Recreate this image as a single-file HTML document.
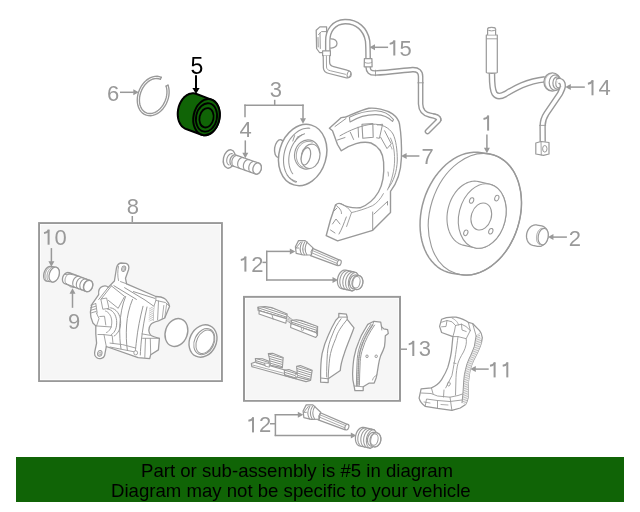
<!DOCTYPE html>
<html><head><meta charset="utf-8"><style>
html,body{margin:0;padding:0;background:#fff;}
body{width:640px;height:512px;position:relative;overflow:hidden;font-family:"Liberation Sans",sans-serif;}
svg{position:absolute;left:0;top:0;will-change:transform;}
text{font-family:"Liberation Sans",sans-serif;}
.ban{position:absolute;left:16px;top:457px;width:608px;height:45px;background:#106406;}
.l{position:absolute;color:#000;font-size:18.6px;white-space:nowrap;line-height:20px;will-change:transform;}
</style></head><body>
<svg width="640" height="512" viewBox="0 0 640 512">
<rect x="39.05" y="223.05" width="182.90" height="158.00" fill="#f6f6f6" stroke="#999" stroke-width="1.9"/>
<rect x="40.40" y="224.40" width="180.20" height="155.30" fill="none" stroke="#fff" stroke-width="0.8"/>
<rect x="244.00" y="296.90" width="156.00" height="103.90" fill="#f6f6f6" stroke="#999" stroke-width="2.0"/>
<rect x="245.40" y="298.30" width="153.20" height="101.10" fill="none" stroke="#fff" stroke-width="0.8"/>
<text x="107.1" y="101" font-size="22" fill="#999" text-anchor="start">6</text>
<text x="269.8" y="97" font-size="22" fill="#999" text-anchor="start">3</text>
<text x="239.4" y="137.0" font-size="22" fill="#999" text-anchor="start">4</text>
<rect x="393.3" y="40.30" width="2.0" height="15.20" fill="#999"/>
<path d="M394.5,41.00 C393.5,42.90 391.8,43.60 389.7,43.90" stroke="#999" stroke-width="1.9" fill="none"/>
<text x="399.6" y="55.5" font-size="22" fill="#999" text-anchor="start">5</text>
<text x="421.4" y="163.8" font-size="22" fill="#999" text-anchor="start">7</text>
<rect x="487.1" y="115.40" width="2.0" height="15.20" fill="#999"/>
<path d="M488.3,116.10 C487.3,118.00 485.6,118.70 483.5,119.00" stroke="#999" stroke-width="1.9" fill="none"/>
<rect x="591.5" y="80.10" width="2.0" height="15.20" fill="#999"/>
<path d="M592.7,80.80 C591.7,82.70 590.0,83.40 587.9,83.70" stroke="#999" stroke-width="1.9" fill="none"/>
<text x="598.6" y="95.3" font-size="22" fill="#999" text-anchor="start">4</text>
<text x="568.7" y="245.5" font-size="22" fill="#999" text-anchor="start">2</text>
<text x="126.8" y="214" font-size="22" fill="#999" text-anchor="start">8</text>
<rect x="47.6" y="229.50" width="2.0" height="15.20" fill="#999"/>
<path d="M48.800000000000004,230.20 C47.800000000000004,232.10 46.1,232.80 44.0,233.10" stroke="#999" stroke-width="1.9" fill="none"/>
<text x="54.5" y="244.7" font-size="22" fill="#999" text-anchor="start">0</text>
<text x="68.0" y="328.5" font-size="22" fill="#999" text-anchor="start">9</text>
<rect x="244.4" y="256.40" width="2.0" height="15.20" fill="#999"/>
<path d="M245.6,257.10 C244.6,259.00 242.9,259.70 240.8,260.00" stroke="#999" stroke-width="1.9" fill="none"/>
<text x="251.3" y="271.6" font-size="22" fill="#999" text-anchor="start">2</text>
<rect x="252.0" y="417.20" width="2.0" height="15.20" fill="#999"/>
<path d="M253.2,417.90 C252.2,419.80 250.5,420.50 248.4,420.80" stroke="#999" stroke-width="1.9" fill="none"/>
<text x="258.9" y="432.4" font-size="22" fill="#999" text-anchor="start">2</text>
<rect x="412.3" y="340.80" width="2.0" height="15.20" fill="#999"/>
<path d="M413.5,341.50 C412.5,343.40 410.8,344.10 408.7,344.40" stroke="#999" stroke-width="1.9" fill="none"/>
<text x="418.7" y="356.0" font-size="22" fill="#999" text-anchor="start">3</text>
<rect x="493.6" y="362.20" width="2.0" height="15.20" fill="#999"/>
<path d="M494.8,362.90 C493.8,364.80 492.1,365.50 490.0,365.80" stroke="#999" stroke-width="1.9" fill="none"/>
<rect x="506.3" y="362.20" width="2.0" height="15.20" fill="#999"/>
<path d="M507.5,362.90 C506.5,364.80 504.8,365.50 502.7,365.80" stroke="#999" stroke-width="1.9" fill="none"/>
<text x="190.6" y="73.9" font-size="23" fill="#000" text-anchor="start">5</text>
<line x1="120" y1="92.3" x2="133.8" y2="92.3" stroke="#999" stroke-width="1.5"/>
<polygon points="138.80,92.30 133.30,95.30 133.30,89.30" fill="#999"/>
<line x1="196" y1="75.2" x2="196.0" y2="88.5" stroke="#000" stroke-width="2.0"/>
<polygon points="196.00,94.00 192.40,88.00 199.60,88.00" fill="#000"/>
<line x1="274.7" y1="99.8" x2="274.7" y2="105.2" stroke="#999" stroke-width="1.5"/>
<line x1="244.3" y1="105.2" x2="303.7" y2="105.2" stroke="#999" stroke-width="1.5"/>
<line x1="245" y1="104.5" x2="245" y2="117.2" stroke="#999" stroke-width="1.5"/>
<line x1="303" y1="104.5" x2="303.0" y2="118.8" stroke="#999" stroke-width="1.5"/>
<polygon points="303.00,123.80 300.00,118.30 306.00,118.30" fill="#999"/>
<line x1="245.3" y1="140.4" x2="245.3" y2="153.3" stroke="#999" stroke-width="1.5"/>
<polygon points="245.30,158.30 242.30,152.80 248.30,152.80" fill="#999"/>
<line x1="388.1" y1="47.3" x2="374.5" y2="47.3" stroke="#999" stroke-width="1.5"/>
<polygon points="369.50,47.30 375.00,44.30 375.00,50.30" fill="#999"/>
<line x1="419.4" y1="156.0" x2="406.09999999999997" y2="156.0" stroke="#999" stroke-width="1.5"/>
<polygon points="401.10,156.00 406.60,153.00 406.60,159.00" fill="#999"/>
<line x1="486.9" y1="134.6" x2="486.9" y2="148.3" stroke="#999" stroke-width="1.5"/>
<polygon points="486.90,153.30 483.90,147.80 489.90,147.80" fill="#999"/>
<line x1="584.8" y1="87.1" x2="570.3000000000001" y2="87.1" stroke="#999" stroke-width="1.5"/>
<polygon points="565.30,87.10 570.80,84.10 570.80,90.10" fill="#999"/>
<line x1="566.9" y1="237.1" x2="552.95" y2="237.1" stroke="#999" stroke-width="1.5"/>
<polygon points="547.95,237.10 553.45,234.10 553.45,240.10" fill="#999"/>
<line x1="132.3" y1="216" x2="132.3" y2="222" stroke="#999" stroke-width="1.5"/>
<line x1="51.4" y1="248.1" x2="51.4" y2="261.8" stroke="#999" stroke-width="1.5"/>
<polygon points="51.40,266.80 48.40,261.30 54.40,261.30" fill="#999"/>
<line x1="72.5" y1="307.8" x2="72.5" y2="293.2" stroke="#999" stroke-width="1.5"/>
<polygon points="72.50,288.20 75.50,293.70 69.50,293.70" fill="#999"/>
<line x1="262.5" y1="262.4" x2="266.75" y2="262.4" stroke="#999" stroke-width="1.5"/>
<line x1="266.75" y1="250.7" x2="266.75" y2="280.6" stroke="#999" stroke-width="1.5"/>
<line x1="266" y1="251.4" x2="290.3" y2="251.4" stroke="#999" stroke-width="1.5"/>
<polygon points="295.30,251.40 289.80,254.40 289.80,248.40" fill="#999"/>
<line x1="266" y1="279.9" x2="333.0" y2="279.9" stroke="#999" stroke-width="1.5"/>
<polygon points="338.00,279.90 332.50,282.90 332.50,276.90" fill="#999"/>
<line x1="270" y1="423.75" x2="275.4" y2="423.75" stroke="#999" stroke-width="1.5"/>
<line x1="275.4" y1="414" x2="275.4" y2="436.1" stroke="#999" stroke-width="1.5"/>
<line x1="274.7" y1="414.75" x2="298.3" y2="414.75" stroke="#999" stroke-width="1.5"/>
<polygon points="303.30,414.75 297.80,417.75 297.80,411.75" fill="#999"/>
<line x1="274.7" y1="435.4" x2="351.3" y2="435.4" stroke="#999" stroke-width="1.5"/>
<polygon points="356.30,435.40 350.80,438.40 350.80,432.40" fill="#999"/>
<line x1="400" y1="349.2" x2="407" y2="349.2" stroke="#999" stroke-width="1.5"/>
<line x1="488.7" y1="369.1" x2="475.3" y2="369.1" stroke="#999" stroke-width="1.5"/>
<polygon points="470.30,369.10 475.80,366.10 475.80,372.10" fill="#999"/>
<path d="M168.05,85.15 L168.72,87.56 L169.08,90.15 L169.13,92.84 L168.87,95.60 L168.29,98.37 L167.42,101.09 L166.27,103.71 L164.86,106.18 L163.22,108.45 L161.38,110.47 L159.39,112.21 L157.27,113.63 L155.07,114.70 L152.83,115.40 L150.60,115.72 L148.42,115.65 L146.34,115.20 L144.39,114.36 L142.61,113.17 L141.05,111.63 L139.72,109.79 L138.66,107.67 L137.88,105.33 L137.41,102.80 L137.25,100.14 L137.40,97.39 L137.87,94.62 L138.63,91.88 L139.68,89.22 L141.00,86.69 L142.56,84.34 L144.33,82.22 L146.28,80.38 L148.36,78.84 L150.53,77.64 L152.76,76.81 L155.00,76.35 L157.20,76.28 L159.32,76.59 L161.33,77.29" stroke="#999" stroke-width="1.35" fill="none" stroke-linejoin="round" stroke-linecap="round" />
<path d="M166.11,86.18 L166.65,88.31 L166.93,90.60 L166.94,92.99 L166.67,95.44 L166.14,97.90 L165.36,100.33 L164.33,102.67 L163.09,104.88 L161.65,106.91 L160.05,108.73 L158.31,110.30 L156.46,111.58 L154.56,112.56 L152.63,113.21 L150.71,113.52 L148.84,113.49 L147.05,113.11 L145.39,112.40 L143.88,111.36 L142.55,110.02 L141.43,108.41 L140.55,106.54 L139.91,104.47 L139.54,102.24 L139.43,99.88 L139.60,97.44 L140.04,94.98 L140.73,92.54 L141.67,90.16 L142.84,87.90 L144.21,85.80 L145.76,83.90 L147.45,82.24 L149.26,80.85 L151.15,79.76 L153.08,78.98 L155.01,78.55 L156.90,78.46 L158.72,78.71 L160.43,79.30" stroke="#999" stroke-width="1.35" fill="none" stroke-linejoin="round" stroke-linecap="round" />
<path d="M168.05,85.15 L166.11,86.18" stroke="#999" stroke-width="1.3" fill="none" stroke-linejoin="round" stroke-linecap="round" />
<path d="M161.33,77.29 L160.43,79.30" stroke="#999" stroke-width="1.3" fill="none" stroke-linejoin="round" stroke-linecap="round" />
<path d="M177.73,113.42 L177.82,111.85 L178.00,110.27 L178.28,108.70 L178.66,107.15 L179.14,105.63 L179.70,104.16 L180.35,102.74 L181.08,101.39 L181.89,100.11 L182.77,98.92 L183.71,97.82 L184.70,96.83 L185.74,95.95 L186.82,95.19 L187.94,94.55 L189.07,94.03 L190.23,93.66 L191.38,93.41 L192.54,93.30 L193.68,93.33 L194.81,93.50 L195.90,93.80 L211.40,99.60 L212.46,100.04 L213.47,100.61 L214.42,101.30 L215.32,102.12 L216.15,103.05 L216.91,104.09 L217.59,105.22 L218.18,106.45 L218.69,107.77 L219.10,109.15 L219.41,110.59 L219.63,112.08 L219.75,113.62 L219.77,115.18 L219.68,116.75 L219.50,118.33 L219.22,119.90 L218.84,121.45 L218.36,122.97 L217.80,124.44 L217.15,125.86 L216.42,127.22 L215.61,128.49 L214.73,129.68 L213.79,130.78 L212.80,131.77 L211.76,132.65 L210.68,133.41 L209.56,134.05 L208.43,134.56 L207.27,134.94 L206.12,135.19 L204.96,135.30 L203.82,135.27 L202.69,135.10 L201.60,134.80 L186.10,129.00 L185.04,128.56 L184.03,127.99 L183.08,127.30 L182.18,126.48 L181.35,125.55 L180.59,124.51 L179.91,123.38 L179.32,122.15 L178.81,120.83 L178.40,119.45 L178.09,118.01 L177.87,116.52 L177.75,114.98 Z" stroke="#000" stroke-width="2.0" fill="#106406" stroke-linejoin="round"/>
<ellipse cx="206.5" cy="117.2" rx="13.0" ry="18.3" transform="rotate(12 206.5 117.2)" stroke="#000" stroke-width="2.0" fill="#106406"/>
<ellipse cx="206.5" cy="117.4" rx="10.4" ry="14.3" transform="rotate(12 206.5 117.4)" stroke="#000" stroke-width="1.8" fill="#106406"/>
<ellipse cx="206.5" cy="117.8" rx="7.0" ry="9.8" transform="rotate(12 206.5 117.8)" stroke="#000" stroke-width="1.8" fill="#106406"/>
<ellipse cx="279.6" cy="148.6" rx="5.0" ry="9.0" transform="rotate(8 279.6 148.6)" stroke="#999" stroke-width="1.4" fill="#fff"/>
<ellipse cx="302.65" cy="155.0" rx="23.5" ry="31.15" transform="rotate(16.4 302.65 155.0)" stroke="#999" stroke-width="1.5" fill="#fff"/>
<path d="M296.02,182.24 L294.61,181.67 L293.26,180.96 L291.97,180.11 L290.75,179.12 L289.61,178.01 L288.55,176.77 L287.58,175.41 L286.70,173.95 L285.92,172.38 L285.24,170.72 L284.67,168.98 L284.21,167.17 L283.86,165.29 L283.63,163.36 L283.51,161.38 L283.51,159.37 L283.62,157.35 L283.85,155.31 L284.19,153.28 L284.64,151.25 L285.21,149.26 L285.88,147.29 L286.65,145.37 L287.52,143.51 L288.49,141.72 L289.54,140.00 L290.68,138.37 L291.90,136.83 L293.18,135.39 L294.53,134.07 L295.93,132.86 L297.38,131.78 L298.87,130.84 L300.39,130.02 L301.94,129.35 L303.49,128.82 L305.06,128.44 L306.62,128.21 L308.17,128.13 L309.71,128.20" stroke="#999" stroke-width="1.1" fill="none" stroke-linejoin="round" stroke-linecap="round" />
<path d="M292.75,173.76 L292.17,172.94 L291.63,172.06 L291.13,171.13 L290.68,170.17 L290.27,169.16 L289.91,168.11 L289.60,167.03 L289.33,165.91 L289.12,164.76 L288.95,163.59 L288.84,162.40 L288.77,161.19 L288.76,159.96 L288.80,158.73 L288.89,157.48 L289.03,156.23 L289.22,154.98 L289.46,153.73 L289.75,152.49 L290.08,151.26 L290.47,150.04 L290.90,148.84 L291.37,147.66 L291.89,146.51 L292.45,145.38 L293.05,144.28 L293.69,143.22 L294.36,142.20 L295.07,141.21 L295.82,140.27 L296.59,139.38 L297.39,138.53 L298.22,137.74 L299.07,137.00 L299.94,136.31 L300.83,135.68 L301.73,135.12 L302.65,134.61 L303.58,134.16 L304.52,133.78" stroke="#999" stroke-width="1.05" fill="none" stroke-linejoin="round" stroke-linecap="round" />
<ellipse cx="307.2" cy="154.5" rx="12.6" ry="14.7" transform="rotate(12 307.2 154.5)" stroke="#999" stroke-width="1.1" fill="#fff"/>
<path d="M302.95,167.20 L302.16,166.81 L301.40,166.33 L300.68,165.79 L300.00,165.18 L299.36,164.50 L298.78,163.77 L298.25,162.97 L297.78,162.13 L297.37,161.24 L297.03,160.31 L296.75,159.35 L296.53,158.35 L296.39,157.34 L296.31,156.31 L296.30,155.26 L296.36,154.22 L296.50,153.18 L296.70,152.14 L296.96,151.13 L297.29,150.13 L297.69,149.16 L298.15,148.23 L298.66,147.34 L299.24,146.49 L299.86,145.69 L300.53,144.95 L301.24,144.27 L301.99,143.65 L302.78,143.11 L303.60,142.63 L304.44,142.22 L305.30,141.90 L306.18,141.65 L307.06,141.48 L307.95,141.40 L308.83,141.40 L309.71,141.48 L310.58,141.64 L311.42,141.88 L312.25,142.20" stroke="#999" stroke-width="1.0" fill="none" stroke-linejoin="round" stroke-linecap="round" />
<ellipse cx="310.6" cy="156.3" rx="9.2" ry="12.3" transform="rotate(12 310.6 156.3)" stroke="#999" stroke-width="1.2" fill="#fff"/>
<ellipse cx="305.9" cy="156.3" rx="4.4" ry="8.9" transform="rotate(14 305.9 156.3)" stroke="#999" stroke-width="1.2" fill="#fff"/>
<path d="M292.8,141 L294.6,135.6 M295,141.6 L297.8,136.6 M298.5,136.5 L302.5,134.5" stroke="#999" stroke-width="1.0" fill="none" stroke-linejoin="round" stroke-linecap="round" />
<path d="M287.2,175.4 C290,178.5 293,180.6 296.6,181.6" stroke="#999" stroke-width="1.0" fill="none" stroke-linejoin="round" stroke-linecap="round" />
<ellipse cx="229.3" cy="159.0" rx="5.9" ry="9.3" transform="rotate(12 229.3 159.0)" stroke="#999" stroke-width="1.4" fill="#fff"/>
<path d="M229.04,164.95 L228.76,164.82 L228.50,164.65 L228.25,164.46 L228.02,164.24 L227.80,163.99 L227.60,163.71 L227.42,163.42 L227.26,163.10 L227.12,162.76 L227.00,162.40 L226.90,162.02 L226.82,161.63 L226.77,161.23 L226.74,160.82 L226.74,160.40 L226.76,159.98 L226.80,159.55 L226.86,159.12 L226.95,158.69 L227.06,158.27 L227.19,157.85 L227.34,157.44 L227.51,157.05 L227.71,156.66 L227.92,156.29 L228.14,155.94 L228.39,155.60 L228.64,155.29 L228.91,155.00 L229.19,154.74 L229.48,154.49 L229.78,154.28 L230.09,154.10 L230.40,153.94 L230.72,153.81 L231.03,153.72 L231.35,153.65 L231.66,153.62 L231.97,153.62 L232.28,153.65" stroke="#999" stroke-width="1.1" fill="none" stroke-linejoin="round" stroke-linecap="round" />
<path d="M229.96,161.21 L229.99,160.73 L230.05,160.24 L230.14,159.75 L230.26,159.27 L230.41,158.80 L230.59,158.34 L230.80,157.89 L231.03,157.46 L231.29,157.06 L231.57,156.68 L231.87,156.33 L232.19,156.01 L232.52,155.73 L232.87,155.48 L233.23,155.26 L233.59,155.09 L233.96,154.96 L234.33,154.87 L234.70,154.81 L235.06,154.81 L235.42,154.84 L235.77,154.92 L236.11,155.04 L259.01,163.14 L259.33,163.30 L259.64,163.50 L259.92,163.74 L260.19,164.01 L260.43,164.32 L260.65,164.66 L260.84,165.03 L261.00,165.43 L261.13,165.84 L261.23,166.28 L261.30,166.74 L261.34,167.21 L261.34,167.69 L261.31,168.17 L261.25,168.66 L261.16,169.15 L261.04,169.63 L260.89,170.10 L260.71,170.56 L260.50,171.01 L260.27,171.44 L260.01,171.84 L259.73,172.22 L259.43,172.57 L259.11,172.89 L258.78,173.17 L258.43,173.42 L258.07,173.64 L257.71,173.81 L257.34,173.94 L256.97,174.03 L256.60,174.09 L256.24,174.09 L255.88,174.06 L255.53,173.98 L255.19,173.86 L232.29,165.76 L231.97,165.60 L231.66,165.40 L231.38,165.16 L231.11,164.89 L230.87,164.58 L230.65,164.24 L230.46,163.87 L230.30,163.47 L230.17,163.06 L230.07,162.62 L230.00,162.16 L229.96,161.69 Z" stroke="#999" stroke-width="1.3" fill="#fff" stroke-linejoin="round"/>
<path d="M234.53,166.55 L234.22,166.45 L233.93,166.31 L233.65,166.14 L233.39,165.93 L233.14,165.70 L232.91,165.44 L232.70,165.15 L232.51,164.84 L232.35,164.50 L232.20,164.15 L232.08,163.77 L231.99,163.38 L231.92,162.97 L231.88,162.55 L231.86,162.12 L231.87,161.69 L231.90,161.25 L231.96,160.81 L232.05,160.38 L232.16,159.94 L232.29,159.52 L232.45,159.10 L232.63,158.69 L232.84,158.30 L233.06,157.93 L233.30,157.58 L233.56,157.25 L233.84,156.94 L234.12,156.65 L234.42,156.40 L234.74,156.17 L235.05,155.98 L235.38,155.81 L235.71,155.68 L236.04,155.58 L236.38,155.51 L236.71,155.48 L237.04,155.48 L237.36,155.52 L237.67,155.59" stroke="#999" stroke-width="1.15" fill="none" stroke-linejoin="round" stroke-linecap="round" />
<path d="M240.33,168.60 L240.02,168.50 L239.73,168.36 L239.45,168.19 L239.19,167.99 L238.94,167.75 L238.71,167.49 L238.50,167.20 L238.31,166.89 L238.15,166.56 L238.00,166.20 L237.88,165.82 L237.79,165.43 L237.72,165.02 L237.68,164.60 L237.66,164.18 L237.67,163.74 L237.70,163.30 L237.76,162.86 L237.85,162.43 L237.96,161.99 L238.09,161.57 L238.25,161.15 L238.43,160.75 L238.64,160.36 L238.86,159.98 L239.10,159.63 L239.36,159.30 L239.64,158.99 L239.92,158.71 L240.22,158.45 L240.54,158.22 L240.85,158.03 L241.18,157.86 L241.51,157.73 L241.84,157.63 L242.18,157.56 L242.51,157.53 L242.84,157.54 L243.16,157.57 L243.47,157.64" stroke="#999" stroke-width="1.15" fill="none" stroke-linejoin="round" stroke-linecap="round" />
<path d="M246.03,170.62 L245.72,170.51 L245.43,170.37 L245.15,170.20 L244.89,170.00 L244.64,169.77 L244.41,169.51 L244.20,169.22 L244.01,168.91 L243.85,168.57 L243.70,168.22 L243.58,167.84 L243.49,167.45 L243.42,167.04 L243.38,166.62 L243.36,166.19 L243.37,165.76 L243.40,165.32 L243.46,164.88 L243.55,164.44 L243.66,164.01 L243.79,163.58 L243.95,163.17 L244.13,162.76 L244.34,162.37 L244.56,162.00 L244.80,161.65 L245.06,161.31 L245.34,161.00 L245.62,160.72 L245.92,160.47 L246.24,160.24 L246.55,160.04 L246.88,159.88 L247.21,159.74 L247.54,159.65 L247.88,159.58 L248.21,159.55 L248.54,159.55 L248.86,159.59 L249.17,159.66" stroke="#999" stroke-width="1.15" fill="none" stroke-linejoin="round" stroke-linecap="round" />
<path d="M251.43,172.53 L251.12,172.42 L250.83,172.28 L250.55,172.11 L250.29,171.91 L250.04,171.68 L249.81,171.42 L249.60,171.13 L249.41,170.82 L249.25,170.48 L249.10,170.13 L248.98,169.75 L248.89,169.36 L248.82,168.95 L248.78,168.53 L248.76,168.10 L248.77,167.67 L248.80,167.23 L248.86,166.79 L248.95,166.35 L249.06,165.92 L249.19,165.49 L249.35,165.08 L249.53,164.67 L249.74,164.28 L249.96,163.91 L250.20,163.56 L250.46,163.22 L250.74,162.91 L251.02,162.63 L251.32,162.38 L251.64,162.15 L251.95,161.95 L252.28,161.79 L252.61,161.65 L252.94,161.56 L253.28,161.49 L253.61,161.46 L253.94,161.46 L254.26,161.50 L254.57,161.57" stroke="#999" stroke-width="1.15" fill="none" stroke-linejoin="round" stroke-linecap="round" />
<ellipse cx="257.1" cy="168.5" rx="4.1" ry="5.7" transform="rotate(16 257.1 168.5)" stroke="#999" stroke-width="1.3" fill="#fff"/>
<path d="M329.4,128.3 L341.3,117.6 L345.6,117 C352,114.5 360,110.5 368.8,108.3 C375,107.5 386,109.5 392.5,113.9 C396,116.5 398.5,119 399.5,124 C401,133 401.8,146 401.4,158 C401,170 397,183 390.5,191.4 L390.5,212.5 L372.7,230.3 L337.6,240.9 L326.2,235.6 L330.5,219.8 L335.5,205 C337,203.5 339.5,203 341.5,204 C347,207.5 353,208.3 360,207.8 C368,205 375,198 378.5,192 C383,184 384.3,172 383.6,162 C383,153 378,146 371,143 C362,140.5 350,144.5 341.3,150.8 L337.5,144.5 L332.5,130.8 Z" stroke="#999" stroke-width="1.4" fill="#fff" stroke-linejoin="round" stroke-linecap="round" />
<path d="M349.4,117.2 C358,113 368,110.5 376,110.7 C384,111 389,113.5 393.5,119.5 L392.5,121.5 C388,116.5 383,114.8 376,114.6 C368,114.5 358,117 350,122 Z" stroke="#999" stroke-width="1.1" fill="none" stroke-linejoin="round" stroke-linecap="round" />
<path d="M340,135.8 C350,130 362,125.2 372,124.2 C382,123.8 389,127.5 393,134 C396,140 397.3,150 397.3,160 C397,172 393.5,181 388.5,188" stroke="#999" stroke-width="1.0" fill="none" stroke-linejoin="round" stroke-linecap="round" />
<path d="M387.5,190 C392,180 394.5,170 394.6,160 C394.6,150 393,143 390.5,138" stroke="#999" stroke-width="0.9" fill="none" stroke-linejoin="round" stroke-linecap="round" />
<path d="M362,124.3 L372.8,123.6 L373.2,137.2 L362.8,138.2 Z" stroke="#999" stroke-width="1.1" fill="none" stroke-linejoin="round" stroke-linecap="round" />
<path d="M377.6,125 L382.6,124.2 L379.4,138.3 L376.6,137.8" stroke="#999" stroke-width="1.0" fill="none" stroke-linejoin="round" stroke-linecap="round" />
<path d="M384.6,130.8 L391.3,143.8 L387,148.6 L380.6,137.2" stroke="#999" stroke-width="1.0" fill="none" stroke-linejoin="round" stroke-linecap="round" />
<path d="M350.3,132.2 L353.6,139.5 M358.1,127.2 L358.6,137.2 M337.5,140 L345,137.5 M335,126.5 L346,118.5" stroke="#999" stroke-width="1.0" fill="none" stroke-linejoin="round" stroke-linecap="round" />
<path d="M372.7,212 L372.7,230 M374,214 L387.5,201.5 M387.5,201.5 L387.5,205" stroke="#999" stroke-width="1.0" fill="none" stroke-linejoin="round" stroke-linecap="round" />
<path d="M346.3,217 C344,223 342,229 339,234 M332.5,224 L336,219 L340,224 M330.5,230 L335,233" stroke="#999" stroke-width="1.0" fill="none" stroke-linejoin="round" stroke-linecap="round" />
<path d="M335.5,205 C339,207 342,211 341.5,213.5 M333,212 L337,208" stroke="#999" stroke-width="1.0" fill="none" stroke-linejoin="round" stroke-linecap="round" />
<path d="M390.2,145.5 C391.5,147 392,148.5 392,149 M388,172 C388.4,174 388.6,175 388.4,176" stroke="#999" stroke-width="0.9" fill="none" stroke-linejoin="round" stroke-linecap="round" />
<path d="M351.5,212.6 C358,211.2 366,208.6 372.7,205.6 C377,203 380.6,199 383.4,193.6" stroke="#999" stroke-width="0.9" fill="none" stroke-linejoin="round" stroke-linecap="round" />
<path d="M341.8,204.2 C345.5,205.5 349,208.5 351.5,212.6 L346.6,226.5" stroke="#999" stroke-width="0.9" fill="none" stroke-linejoin="round" stroke-linecap="round" />
<path d="M316.2,30.3 L319.9,26.9 L326.6,26.9 L326.6,52.5 L319.5,52.5 L316.6,48.5 Z" stroke="#999" stroke-width="1.25" fill="#fff" stroke-linejoin="round" stroke-linecap="round" />
<path d="M318.5,34.5 L321.5,31.6 L326,31.6 M320,33 L320.3,48.5 M318,37.5 L318.2,47" stroke="#999" stroke-width="1.0" fill="none" stroke-linejoin="round" stroke-linecap="round" />
<path d="M327.8,53 L327.8,41 C327.6,31 333.5,22 345,21.65 C357,21.5 365.5,29 367.6,41 C368.1,47 368.1,53 368.1,58.6" stroke="#999" stroke-width="5.7" fill="none" stroke-linejoin="round" stroke-linecap="butt"/>
<path d="M327.8,53 L327.8,41 C327.6,31 333.5,22 345,21.65 C357,21.5 365.5,29 367.6,41 C368.1,47 368.1,53 368.1,58.6" stroke="#fff" stroke-width="2.9" fill="none" stroke-linejoin="round" stroke-linecap="butt"/>
<path d="M330.6,38.8 C334.5,38.6 337,40.8 337,43.5 C337,46.2 334.5,48.2 330.6,48" stroke="#999" stroke-width="1.25" fill="#fff" stroke-linejoin="round" stroke-linecap="round" />
<path d="M368.1,66.8 C368.1,71 370,73.2 375.5,73.0 C390,72.2 405,70 412.5,69.6 C418.2,69.4 420.6,72 420.6,76.5 L420.6,104 C420.8,110 424,114 430,115.2 C436,116.3 439.5,117.5 438.5,120.5 L427.5,131.5" stroke="#999" stroke-width="5.7" fill="none" stroke-linejoin="round" stroke-linecap="round"/>
<path d="M368.1,66.8 C368.1,71 370,73.2 375.5,73.0 C390,72.2 405,70 412.5,69.6 C418.2,69.4 420.6,72 420.6,76.5 L420.6,104 C420.8,110 424,114 430,115.2 C436,116.3 439.5,117.5 438.5,120.5 L427.5,131.5" stroke="#fff" stroke-width="2.9" fill="none" stroke-linejoin="round" stroke-linecap="round"/>
<path d="M375.5,70.2 L375.5,75.8 M417.8,82.8 L423.4,82.8" stroke="#999" stroke-width="0.9" fill="none" stroke-linejoin="round" stroke-linecap="round" />
<path d="M364.4,58.6 L371.9,58.6 L372.1,66.8 L364.2,66.8 Z" stroke="#999" stroke-width="1.25" fill="#fff" stroke-linejoin="round" stroke-linecap="round" />
<path d="M364.5,62.3 C366.5,63.6 369.8,63.6 371.9,62.3" stroke="#999" stroke-width="0.9" fill="none" stroke-linejoin="round" stroke-linecap="round" />
<path d="M433.5,113.9 C438.8,113.8 441.6,116.8 441.2,120.6" stroke="#999" stroke-width="1.0" fill="none" stroke-linejoin="round" stroke-linecap="round" />
<path d="M322.6,50.8 L330.4,50.8 L330.4,55.6 L322.6,55.6 Z" stroke="#999" stroke-width="1.2" fill="#fff" stroke-linejoin="round" stroke-linecap="round" />
<path d="M323.2,55.6 L323.4,68 C323.6,71 325.3,72.8 329,73.5 L345.5,77.6 C349,78.3 351.2,77 351.2,74.5 C351.2,72 349.6,70.8 347,70.2 L333.6,66.6 C331,66 329.6,64.5 329.6,62 L329.6,55.6" stroke="#999" stroke-width="1.25" fill="#fff" stroke-linejoin="round" stroke-linecap="round" />
<path d="M326.4,56 L326.5,67 C326.6,69 327.8,70.2 330.6,70.8 L345.5,74.3" stroke="#999" stroke-width="0.9" fill="none" stroke-linejoin="round" stroke-linecap="round" />
<ellipse cx="348.9" cy="74.2" rx="1.7" ry="3.1" transform="rotate(15 348.9 74.2)" stroke="#999" stroke-width="1.0" fill="#fff"/>
<path d="M420.04,225.81 L420.13,220.58 L420.58,215.29 L421.37,209.99 L422.51,204.70 L423.99,199.48 L425.79,194.37 L427.91,189.39 L430.31,184.60 L432.99,180.02 L435.93,175.69 L439.10,171.65 L442.49,167.92 L446.05,164.54 L449.77,161.52 L453.62,158.90 L457.57,156.68 L461.58,154.90 L465.64,153.55 L469.70,152.66 L473.74,152.23 L477.72,152.26 L481.62,152.76 L489.92,154.06 L493.71,155.01 L497.35,156.41 L500.82,158.26 L504.09,160.53 L507.15,163.21 L509.95,166.28 L512.49,169.71 L514.75,173.49 L516.70,177.57 L518.33,181.93 L519.63,186.54 L520.59,191.37 L521.20,196.36 L521.46,201.49 L521.37,206.72 L520.92,212.01 L520.13,217.31 L518.99,222.60 L517.51,227.82 L515.71,232.93 L513.59,237.91 L511.19,242.70 L508.51,247.28 L505.57,251.61 L502.40,255.65 L499.01,259.38 L495.45,262.76 L491.73,265.78 L487.88,268.40 L483.93,270.62 L479.92,272.40 L475.86,273.75 L471.80,274.64 L467.76,275.07 L463.78,275.04 L459.88,274.54 L451.58,273.24 L447.79,272.29 L444.15,270.88 L440.68,269.04 L437.41,266.77 L434.35,264.09 L431.55,261.02 L429.01,257.59 L426.75,253.81 L424.81,249.73 L423.17,245.37 L421.87,240.76 L420.91,235.94 L420.30,230.94 Z" stroke="#999" stroke-width="1.5" fill="#fff" stroke-linejoin="round"/>
<ellipse cx="474.9" cy="214.3" rx="44.7" ry="62.2" transform="rotate(17.6 474.9 214.3)" stroke="#999" stroke-width="1.1" fill="none"/>
<path d="M446.97,219.04 L447.02,216.25 L447.26,213.44 L447.68,210.63 L448.27,207.84 L449.04,205.10 L449.97,202.41 L451.06,199.81 L452.31,197.32 L453.69,194.94 L455.20,192.71 L456.84,190.63 L458.58,188.73 L460.42,187.01 L462.33,185.50 L464.31,184.20 L466.34,183.12 L468.41,182.27 L470.49,181.66 L472.58,181.29 L474.65,181.16 L476.70,181.28 L478.70,181.64 L490.05,184.24 L491.99,184.85 L493.86,185.69 L495.64,186.76 L497.32,188.06 L498.88,189.57 L500.32,191.28 L501.62,193.18 L502.77,195.25 L503.76,197.47 L504.60,199.84 L505.26,202.34 L505.75,204.94 L506.05,207.62 L506.18,210.36 L506.12,213.15 L505.89,215.96 L505.47,218.77 L504.88,221.56 L504.11,224.30 L503.18,226.99 L502.09,229.59 L500.85,232.08 L499.46,234.46 L497.95,236.69 L496.31,238.77 L494.57,240.67 L492.74,242.38 L490.82,243.90 L488.84,245.20 L486.81,246.28 L484.74,247.13 L482.66,247.74 L480.57,248.11 L478.50,248.24 L476.45,248.12 L474.45,247.76 L463.10,245.16 L461.16,244.55 L459.29,243.71 L457.51,242.64 L455.83,241.34 L454.27,239.83 L452.83,238.12 L451.53,236.22 L450.38,234.15 L449.38,231.93 L448.55,229.56 L447.89,227.06 L447.40,224.47 L447.10,221.78 Z" stroke="#999" stroke-width="1.1" fill="#fff" stroke-linejoin="round"/>
<ellipse cx="482.25" cy="216.0" rx="23.3" ry="32.7" transform="rotate(13.8 482.25 216.0)" stroke="#999" stroke-width="1.1" fill="#fff"/>
<ellipse cx="481.3" cy="216.5" rx="10.0" ry="13.8" transform="rotate(17.1 481.3 216.5)" stroke="#999" stroke-width="1.1" fill="#fff"/>
<ellipse cx="471.6" cy="200.5" rx="2.0" ry="2.9" transform="rotate(22 471.6 200.5)" stroke="#999" stroke-width="1.0" fill="#fff"/>
<ellipse cx="496.8" cy="198.1" rx="2.0" ry="2.9" transform="rotate(22 496.8 198.1)" stroke="#999" stroke-width="1.0" fill="#fff"/>
<ellipse cx="465.8" cy="232.8" rx="2.0" ry="2.9" transform="rotate(22 465.8 232.8)" stroke="#999" stroke-width="1.0" fill="#fff"/>
<ellipse cx="490.8" cy="231.25" rx="2.0" ry="2.9" transform="rotate(22 490.8 231.25)" stroke="#999" stroke-width="1.0" fill="#fff"/>
<path d="M526.50,236.15 L526.53,235.25 L526.63,234.35 L526.78,233.45 L527.00,232.57 L527.28,231.71 L527.62,230.88 L528.02,230.08 L528.47,229.32 L528.97,228.60 L529.51,227.94 L530.10,227.32 L530.72,226.77 L531.38,226.28 L532.06,225.87 L532.76,225.52 L533.49,225.24 L534.22,225.04 L534.96,224.92 L535.70,224.88 L536.44,224.91 L537.16,225.03 L541.76,225.93 L542.47,226.12 L543.16,226.38 L543.82,226.73 L544.44,227.14 L545.03,227.62 L545.58,228.16 L546.08,228.77 L546.54,229.43 L546.94,230.14 L547.28,230.90 L547.57,231.70 L547.80,232.53 L547.96,233.38 L548.06,234.26 L548.10,235.15 L548.07,236.05 L547.97,236.95 L547.82,237.85 L547.60,238.73 L547.32,239.59 L546.98,240.42 L546.58,241.22 L546.13,241.98 L545.63,242.70 L545.09,243.37 L544.50,243.98 L543.88,244.53 L543.23,245.01 L542.54,245.44 L541.84,245.78 L541.11,246.06 L540.38,246.26 L539.64,246.38 L538.90,246.42 L538.16,246.39 L537.44,246.27 L532.84,245.37 L532.13,245.18 L531.44,244.91 L530.78,244.57 L530.16,244.16 L529.57,243.68 L529.02,243.14 L528.52,242.53 L528.06,241.87 L527.66,241.16 L527.32,240.40 L527.03,239.60 L526.80,238.77 L526.64,237.92 L526.54,237.04 Z" stroke="#999" stroke-width="1.3" fill="#fff" stroke-linejoin="round"/>
<ellipse cx="543.2" cy="236.6" rx="5.0" ry="8.4" transform="rotate(10 543.2 236.6)" stroke="#999" stroke-width="1.25" fill="#fff"/>
<path d="M539.57,244.37 L539.24,244.24 L538.92,244.06 L538.62,243.85 L538.33,243.59 L538.06,243.30 L537.80,242.97 L537.56,242.61 L537.35,242.21 L537.15,241.78 L536.98,241.33 L536.83,240.84 L536.71,240.34 L536.61,239.81 L536.53,239.26 L536.49,238.70 L536.46,238.13 L536.47,237.55 L536.50,236.96 L536.56,236.37 L536.64,235.78 L536.74,235.19 L536.88,234.61 L537.03,234.04 L537.21,233.48 L537.41,232.93 L537.64,232.41 L537.88,231.91 L538.14,231.43 L538.42,230.97 L538.71,230.55 L539.02,230.15 L539.34,229.79 L539.67,229.47 L540.02,229.18 L540.36,228.93 L540.72,228.72 L541.08,228.54 L541.44,228.42 L541.79,228.33 L542.15,228.29" stroke="#999" stroke-width="0.9" fill="none" stroke-linejoin="round" stroke-linecap="round" />
<path d="M492,73 C492,82 491.8,89 494.5,93.5 C497,97 501,96.5 505.5,94 C513,89.5 525,81.5 545,79.3" stroke="#999" stroke-width="6.6" fill="none" stroke-linejoin="round" stroke-linecap="butt"/>
<path d="M492,73 C492,82 491.8,89 494.5,93.5 C497,97 501,96.5 505.5,94 C513,89.5 525,81.5 545,79.3" stroke="#fff" stroke-width="3.8" fill="none" stroke-linejoin="round" stroke-linecap="butt"/>
<ellipse cx="552.3" cy="82.0" rx="8.4" ry="9.2" transform="rotate(0 552.3 82.0)" stroke="#999" stroke-width="1.25" fill="#fff"/>
<path d="M551.28,90.57 L550.76,90.44 L550.25,90.28 L549.75,90.07 L549.27,89.83 L548.80,89.55 L548.35,89.23 L547.92,88.88 L547.51,88.49 L547.13,88.07 L546.78,87.63 L546.45,87.15 L546.15,86.66 L545.89,86.14 L545.66,85.60 L545.46,85.04 L545.29,84.47 L545.17,83.89 L545.07,83.30 L545.02,82.70 L545.00,82.10 L545.02,81.50 L545.07,80.90 L545.17,80.31 L545.29,79.73 L545.46,79.16 L545.66,78.60 L545.89,78.06 L546.15,77.54 L546.45,77.05 L546.78,76.57 L547.13,76.13 L547.51,75.71 L547.92,75.32 L548.35,74.97 L548.80,74.65 L549.27,74.37 L549.75,74.13 L550.25,73.92 L550.76,73.76 L551.28,73.63" stroke="#999" stroke-width="0.8" fill="none" stroke-linejoin="round" stroke-linecap="round" />
<ellipse cx="555.2" cy="82.6" rx="6.0" ry="7.8" transform="rotate(0 555.2 82.6)" stroke="#999" stroke-width="1.2" fill="#fff"/>
<ellipse cx="557.2" cy="83.0" rx="4.3" ry="6.2" transform="rotate(0 557.2 83.0)" stroke="#999" stroke-width="1.2" fill="#fff"/>
<ellipse cx="558.6" cy="83.3" rx="2.8" ry="4.6" transform="rotate(0 558.6 83.3)" stroke="#999" stroke-width="1.1" fill="#fff"/>
<path d="M557.2,81.5 C560.2,79.8 563.2,82 562.8,86.5 C562.5,89 561.2,91 559.8,94 L546.5,113.5 C543.5,118 542.6,121 542.6,126 L542.7,141.8" stroke="#999" stroke-width="6.4" fill="none" stroke-linejoin="round" stroke-linecap="butt"/>
<path d="M557.2,81.5 C560.2,79.8 563.2,82 562.8,86.5 C562.5,89 561.2,91 559.8,94 L546.5,113.5 C543.5,118 542.6,121 542.6,126 L542.7,141.8" stroke="#fff" stroke-width="3.6" fill="none" stroke-linejoin="round" stroke-linecap="butt"/>
<path d="M539.6,125.4 L545.7,125.4" stroke="#999" stroke-width="0.9" fill="none" stroke-linejoin="round" stroke-linecap="round" />
<path d="M486.3,35 L486.3,72.6 C486.3,73.5 497.3,73.5 497.3,72.6 L497.3,35 Z" stroke="#999" stroke-width="1.2" fill="#fff" stroke-linejoin="round" stroke-linecap="round" />
<path d="M486.5,38.8 L497.1,38.8" stroke="#999" stroke-width="0.9" fill="none" stroke-linejoin="round" stroke-linecap="round" />
<path d="M487.6,34.6 L487.6,29 C487.6,26.8 495.6,26.8 495.6,29 L495.6,34.6" stroke="#999" stroke-width="1.2" fill="#fff" stroke-linejoin="round" stroke-linecap="round" />
<ellipse cx="491.6" cy="29.2" rx="4.0" ry="1.7" transform="rotate(0 491.6 29.2)" stroke="#999" stroke-width="1.0" fill="#fff"/>
<path d="M535.8,143 L541,141.5 L549,142.5 L549,154 L543.5,155.4 L535.8,154 Z" stroke="#999" stroke-width="1.2" fill="#fff" stroke-linejoin="round" stroke-linecap="round" />
<path d="M541,141.5 L541.3,155" stroke="#999" stroke-width="0.9" fill="none" stroke-linejoin="round" stroke-linecap="round" />
<ellipse cx="544.8" cy="148.8" rx="2.2" ry="3.3" transform="rotate(0 544.8 148.8)" stroke="#999" stroke-width="1.0" fill="#fff"/>
<path d="M43.64,276.18 L43.64,275.57 L43.69,274.94 L43.77,274.30 L43.88,273.65 L44.04,273.01 L44.23,272.38 L44.45,271.75 L44.70,271.14 L44.98,270.56 L45.29,269.99 L45.63,269.46 L45.99,268.95 L46.36,268.49 L46.76,268.06 L47.17,267.68 L47.59,267.35 L48.01,267.06 L48.45,266.83 L48.88,266.65 L49.31,266.52 L49.74,266.45 L50.15,266.44 L50.56,266.48 L56.16,267.28 L56.55,267.37 L56.92,267.52 L57.27,267.73 L57.60,267.99 L57.90,268.29 L58.18,268.65 L58.42,269.05 L58.63,269.49 L58.81,269.98 L58.95,270.49 L59.06,271.04 L59.13,271.62 L59.16,272.22 L59.16,272.83 L59.11,273.46 L59.03,274.10 L58.92,274.75 L58.76,275.39 L58.58,276.02 L58.35,276.65 L58.10,277.25 L57.82,277.84 L57.51,278.41 L57.17,278.94 L56.81,279.44 L56.44,279.91 L56.04,280.33 L55.63,280.72 L55.21,281.05 L54.79,281.34 L54.35,281.57 L53.92,281.75 L53.49,281.88 L53.06,281.95 L52.65,281.96 L52.24,281.92 L46.64,281.12 L46.25,281.03 L45.88,280.88 L45.53,280.67 L45.20,280.41 L44.90,280.11 L44.62,279.75 L44.38,279.35 L44.17,278.91 L43.99,278.42 L43.85,277.91 L43.74,277.36 L43.67,276.78 Z" stroke="#999" stroke-width="1.3" fill="#fff" stroke-linejoin="round"/>
<path d="M47.28,281.08 L46.98,280.91 L46.70,280.70 L46.43,280.45 L46.18,280.17 L45.96,279.85 L45.76,279.51 L45.58,279.13 L45.42,278.72 L45.29,278.29 L45.19,277.84 L45.11,277.36 L45.06,276.86 L45.04,276.35 L45.04,275.83 L45.07,275.29 L45.13,274.75 L45.21,274.21 L45.33,273.66 L45.46,273.12 L45.63,272.58 L45.81,272.05 L46.02,271.53 L46.25,271.02 L46.50,270.53 L46.77,270.06 L47.06,269.61 L47.37,269.18 L47.69,268.78 L48.02,268.41 L48.36,268.07 L48.71,267.76 L49.07,267.49 L49.44,267.25 L49.80,267.05 L50.17,266.89 L50.54,266.77 L50.90,266.68 L51.26,266.64 L51.61,266.64 L51.96,266.68" stroke="#999" stroke-width="1.0" fill="none" stroke-linejoin="round" stroke-linecap="round" />
<path d="M49.28,281.38 L48.98,281.21 L48.70,281.00 L48.43,280.75 L48.18,280.47 L47.96,280.15 L47.76,279.81 L47.58,279.43 L47.42,279.02 L47.29,278.59 L47.19,278.14 L47.11,277.66 L47.06,277.16 L47.04,276.65 L47.04,276.13 L47.07,275.59 L47.13,275.05 L47.21,274.51 L47.33,273.96 L47.46,273.42 L47.63,272.88 L47.81,272.35 L48.02,271.83 L48.25,271.32 L48.50,270.83 L48.77,270.36 L49.06,269.91 L49.37,269.48 L49.69,269.08 L50.02,268.71 L50.36,268.37 L50.71,268.06 L51.07,267.79 L51.44,267.55 L51.80,267.35 L52.17,267.19 L52.54,267.07 L52.90,266.98 L53.26,266.94 L53.61,266.94 L53.96,266.98" stroke="#999" stroke-width="1.0" fill="none" stroke-linejoin="round" stroke-linecap="round" />
<ellipse cx="54.2" cy="274.6" rx="4.9" ry="7.7" transform="rotate(18 54.2 274.6)" stroke="#999" stroke-width="1.3" fill="#fff"/>
<path d="M62.44,279.54 L62.45,279.05 L62.50,278.56 L62.58,278.06 L62.69,277.56 L62.84,277.07 L63.01,276.59 L63.22,276.12 L63.46,275.66 L63.72,275.23 L64.01,274.81 L64.32,274.43 L64.65,274.07 L65.00,273.74 L65.37,273.45 L65.74,273.19 L66.13,272.97 L66.52,272.80 L66.92,272.66 L67.32,272.56 L67.71,272.51 L68.10,272.50 L68.48,272.53 L68.85,272.61 L69.21,272.73 L90.41,280.53 L90.75,280.69 L91.07,280.89 L91.37,281.13 L91.64,281.41 L91.89,281.72 L92.11,282.07 L92.30,282.44 L92.46,282.85 L92.58,283.27 L92.67,283.72 L92.73,284.18 L92.76,284.66 L92.75,285.15 L92.70,285.64 L92.62,286.14 L92.51,286.64 L92.36,287.13 L92.19,287.61 L91.98,288.08 L91.74,288.54 L91.48,288.97 L91.19,289.38 L90.88,289.77 L90.55,290.13 L90.20,290.46 L89.83,290.75 L89.46,291.01 L89.07,291.23 L88.68,291.40 L88.28,291.54 L87.88,291.64 L87.49,291.69 L87.10,291.70 L86.72,291.67 L86.35,291.59 L85.99,291.47 L64.79,283.67 L64.45,283.51 L64.13,283.31 L63.83,283.07 L63.56,282.79 L63.31,282.48 L63.09,282.13 L62.90,281.76 L62.74,281.36 L62.62,280.93 L62.52,280.48 L62.47,280.02 Z" stroke="#999" stroke-width="1.3" fill="#fff" stroke-linejoin="round"/>
<path d="M64.5,274.4 L70,274.2 L76.5,275.4" stroke="#999" stroke-width="1.0" fill="none" stroke-linejoin="round" stroke-linecap="round" />
<path d="M67.05,284.41 L66.78,284.24 L66.52,284.04 L66.28,283.82 L66.06,283.57 L65.85,283.29 L65.67,283.00 L65.51,282.68 L65.37,282.34 L65.26,281.98 L65.17,281.61 L65.10,281.22 L65.06,280.82 L65.04,280.42 L65.05,280.00 L65.08,279.58 L65.14,279.16 L65.22,278.74 L65.33,278.32 L65.46,277.90 L65.61,277.49 L65.79,277.09 L65.98,276.70 L66.20,276.32 L66.43,275.96 L66.69,275.62 L66.95,275.29 L67.24,274.99 L67.53,274.71 L67.84,274.45 L68.15,274.22 L68.48,274.01 L68.81,273.83 L69.14,273.69 L69.48,273.57 L69.82,273.48 L70.16,273.42 L70.49,273.40 L70.82,273.40 L71.14,273.44 L71.45,273.51" stroke="#999" stroke-width="1.0" fill="none" stroke-linejoin="round" stroke-linecap="round" />
<path d="M66.5,283.6 L70.5,286.8 L74,287.4" stroke="#999" stroke-width="1.0" fill="none" stroke-linejoin="round" stroke-linecap="round" />
<path d="M74.95,287.40 L74.66,287.25 L74.38,287.06 L74.12,286.85 L73.88,286.60 L73.66,286.33 L73.46,286.04 L73.28,285.72 L73.13,285.37 L73.00,285.01 L72.90,284.63 L72.82,284.24 L72.77,283.83 L72.74,283.41 L72.75,282.98 L72.78,282.55 L72.83,282.11 L72.91,281.67 L73.02,281.23 L73.16,280.80 L73.31,280.38 L73.49,279.96 L73.70,279.56 L73.92,279.17 L74.17,278.80 L74.43,278.45 L74.71,278.11 L75.01,277.80 L75.32,277.52 L75.64,277.26 L75.97,277.03 L76.31,276.83 L76.65,276.66 L77.00,276.52 L77.35,276.41 L77.70,276.34 L78.04,276.30 L78.39,276.29 L78.72,276.31 L79.05,276.37 L79.37,276.47" stroke="#999" stroke-width="1.1" fill="none" stroke-linejoin="round" stroke-linecap="round" />
<path d="M78.55,288.72 L78.26,288.57 L77.98,288.39 L77.72,288.17 L77.48,287.93 L77.26,287.66 L77.06,287.36 L76.88,287.04 L76.73,286.70 L76.60,286.34 L76.50,285.96 L76.42,285.56 L76.37,285.15 L76.34,284.73 L76.35,284.30 L76.38,283.87 L76.43,283.43 L76.51,283.00 L76.62,282.56 L76.76,282.13 L76.91,281.70 L77.09,281.29 L77.30,280.89 L77.52,280.50 L77.77,280.12 L78.03,279.77 L78.31,279.44 L78.61,279.13 L78.92,278.84 L79.24,278.59 L79.57,278.36 L79.91,278.15 L80.25,277.98 L80.60,277.84 L80.95,277.74 L81.30,277.66 L81.64,277.62 L81.99,277.61 L82.32,277.64 L82.65,277.70 L82.97,277.79" stroke="#999" stroke-width="1.1" fill="none" stroke-linejoin="round" stroke-linecap="round" />
<path d="M82.05,290.01 L81.76,289.86 L81.48,289.67 L81.22,289.46 L80.98,289.21 L80.76,288.94 L80.56,288.65 L80.38,288.33 L80.23,287.99 L80.10,287.62 L80.00,287.24 L79.92,286.85 L79.87,286.44 L79.84,286.02 L79.85,285.59 L79.88,285.16 L79.93,284.72 L80.01,284.28 L80.12,283.85 L80.26,283.42 L80.41,282.99 L80.59,282.58 L80.80,282.17 L81.02,281.78 L81.27,281.41 L81.53,281.06 L81.81,280.73 L82.11,280.42 L82.42,280.13 L82.74,279.87 L83.07,279.64 L83.41,279.44 L83.75,279.27 L84.10,279.13 L84.45,279.02 L84.80,278.95 L85.14,278.91 L85.49,278.90 L85.82,278.93 L86.15,278.99 L86.47,279.08" stroke="#999" stroke-width="1.1" fill="none" stroke-linejoin="round" stroke-linecap="round" />
<path d="M85.55,291.30 L85.26,291.15 L84.98,290.96 L84.72,290.75 L84.48,290.50 L84.26,290.23 L84.06,289.94 L83.88,289.62 L83.73,289.27 L83.60,288.91 L83.50,288.53 L83.42,288.14 L83.37,287.73 L83.34,287.31 L83.35,286.88 L83.38,286.45 L83.43,286.01 L83.51,285.57 L83.62,285.13 L83.76,284.70 L83.91,284.28 L84.09,283.86 L84.30,283.46 L84.52,283.07 L84.77,282.70 L85.03,282.35 L85.31,282.01 L85.61,281.70 L85.92,281.42 L86.24,281.16 L86.57,280.93 L86.91,280.73 L87.25,280.56 L87.60,280.42 L87.95,280.31 L88.30,280.24 L88.64,280.20 L88.99,280.19 L89.32,280.21 L89.65,280.27 L89.97,280.37" stroke="#999" stroke-width="1.1" fill="none" stroke-linejoin="round" stroke-linecap="round" />
<ellipse cx="88.2" cy="286.0" rx="4.3" ry="5.9" transform="rotate(22 88.2 286.0)" stroke="#999" stroke-width="1.3" fill="#fff"/>
<ellipse cx="176.4" cy="332.5" rx="11.0" ry="14.3" transform="rotate(20 176.4 332.5)" stroke="#999" stroke-width="1.4" fill="#fff"/>
<ellipse cx="203.0" cy="341.0" rx="13.3" ry="16.8" transform="rotate(25 203.0 341.0)" stroke="#999" stroke-width="1.4" fill="#fff"/>
<ellipse cx="204.3" cy="341.6" rx="9.8" ry="13.6" transform="rotate(25 204.3 341.6)" stroke="#999" stroke-width="1.0" fill="#fff"/>
<ellipse cx="205.0" cy="341.8" rx="8.2" ry="12.4" transform="rotate(25 205.0 341.8)" stroke="#999" stroke-width="1.0" fill="#fff"/>
<path d="M114.4,281 L116.4,268.5 C117,265.5 118.5,263.3 121,263 L126,263.3 C128.5,264.2 129.2,267 128.6,269.5 L125.5,278.3 L126.6,283.8 L155.9,296.5 L160.8,297 C163,297.6 164.6,298.3 165.7,299.4 C167.6,301.5 169,303.8 169.6,306.3 L164.7,318 L158.4,320.8 C154.5,321.8 151.5,323 150.7,324.7 C149.3,326.5 148.8,328.5 148.8,330.5 C149,332.5 149.6,334 150.7,335.3 C153,336.8 156,337.5 159.4,338.3 L158.4,349.9 L150.7,354.7 L149.7,358.6 L138.1,357.6 L106.3,346.5 L104.6,355.5 C103.8,358.3 99.5,359.5 97.2,358 C95,356.6 94.2,354 94.8,351.5 L96.6,343.2 L95.8,334 L95.8,325.9 L92.9,323 L90.9,317.1 L90.4,312 L91.9,304.4 L98.7,294.6 C98.2,291 99.6,287.5 102.6,286.4 C105,285.6 107,286 108.2,287.4 L114.4,281 Z" stroke="#999" stroke-width="1.3" fill="#fff" stroke-linejoin="round" stroke-linecap="round" />
<ellipse cx="123.7" cy="268.8" rx="2.0" ry="2.8" transform="rotate(12 123.7 268.8)" stroke="#999" stroke-width="1.0" fill="#fff"/>
<ellipse cx="123.9" cy="268.9" rx="1.0" ry="1.5" transform="rotate(12 123.9 268.9)" stroke="#999" stroke-width="0.8" fill="#fff"/>
<ellipse cx="99.8" cy="353.4" rx="2.2" ry="2.9" transform="rotate(12 99.8 353.4)" stroke="#999" stroke-width="1.0" fill="#fff"/>
<ellipse cx="99.9" cy="353.5" rx="1.0" ry="1.5" transform="rotate(12 99.9 353.5)" stroke="#999" stroke-width="0.8" fill="#fff"/>
<path d="M118.5,266.5 C117.5,271 117.5,276 118.5,280.5 M120.5,281.6 L126.6,283.8" stroke="#999" stroke-width="0.9" fill="none" stroke-linejoin="round" stroke-linecap="round" />
<path d="M113.9,285.7 L136.4,299.4 M124.6,287.7 L145,300 L153.9,306.3 M133.4,291.6 L154.9,298.4" stroke="#999" stroke-width="1.0" fill="none" stroke-linejoin="round" stroke-linecap="round" />
<path d="M108.2,287.4 L98.7,299.5 M111.4,285.9 L101.2,299" stroke="#999" stroke-width="0.95" fill="none" stroke-linejoin="round" stroke-linecap="round" />
<path d="M155.9,296.5 L155.9,300.4 L153.9,306.3 L153,320.6 M155.9,300.4 L165.4,302.5 L169.6,306.3 M158.5,301 L157.6,319.8" stroke="#999" stroke-width="0.9" fill="none" stroke-linejoin="round" stroke-linecap="round" />
<path d="M164.7,318 L166.6,304.5 M162.2,318.8 L163.8,305.5" stroke="#999" stroke-width="0.8" fill="none" stroke-linejoin="round" stroke-linecap="round" />
<clipPath id="hc1"><path d="M149.20,307.50 L153.90,306.30 L153.00,320.60 L148.60,321.80 Z"/></clipPath>
<path d="M149.20,307.50 L153.90,306.30 L153.00,320.60 L148.60,321.80 Z" fill="#fff" stroke="none"/>
<path d="M129.73,307.77 L156.57,292.27 M130.63,309.33 L157.47,293.83 M131.53,310.89 L158.37,295.39 M132.43,312.45 L159.27,296.95 M133.33,314.01 L160.17,298.51 M134.23,315.56 L161.07,300.06 M135.13,317.12 L161.97,301.62 M136.03,318.68 L162.87,303.18 M136.93,320.24 L163.77,304.74 M137.83,321.80 L164.67,306.30 M138.73,323.36 L165.57,307.86 M139.63,324.92 L166.47,309.42 M140.53,326.48 L167.37,310.98 M141.43,328.04 L168.27,312.54 M142.33,329.59 L169.17,314.09 M143.23,331.15 L170.07,315.65 M144.13,332.71 L170.97,317.21 M145.03,334.27 L171.87,318.77 M145.93,335.83 L172.77,320.33" stroke="#999" stroke-width="0.55" clip-path="url(#hc1)"/>
<path d="M125.6,296.5 C122,305 120.5,315 119.8,325 C119.5,335 120,343 121,349" stroke="#999" stroke-width="1.0" fill="none" stroke-linejoin="round" stroke-linecap="round" />
<path d="M132.5,299.4 C129,308 127.2,316 126.6,325 C126,335 126.3,343 127.4,350.5" stroke="#999" stroke-width="1.0" fill="none" stroke-linejoin="round" stroke-linecap="round" />
<path d="M143,306.3 C140,318 137.6,330 136.6,340 C136,345 135.6,349 135.2,352" stroke="#999" stroke-width="1.0" fill="none" stroke-linejoin="round" stroke-linecap="round" />
<path d="M147,307 C144.5,318 142.5,330 141.4,340 C140.8,346 140.5,350 140.3,355" stroke="#999" stroke-width="1.0" fill="none" stroke-linejoin="round" stroke-linecap="round" />
<path d="M142,333.9 L149.6,335.2 M142.6,338.3 L159.4,338.3 M145.5,338.5 L144.8,357.4 M150.7,354.7 L150.3,338.5" stroke="#999" stroke-width="0.9" fill="none" stroke-linejoin="round" stroke-linecap="round" />
<path d="M110,347 L134.2,351.8 M110,343.1 L122.6,344.6 L135.5,348" stroke="#999" stroke-width="0.9" fill="none" stroke-linejoin="round" stroke-linecap="round" />
<ellipse cx="135.7" cy="352.8" rx="1.9" ry="2.1" transform="rotate(0 135.7 352.8)" stroke="#999" stroke-width="0.9" fill="#fff"/>
<path d="M111.4,285.9 L124.6,296.4 L118.2,308.3 L108.5,300.5" stroke="#999" stroke-width="0.95" fill="none" stroke-linejoin="round" stroke-linecap="round" />
<path d="M101.2,299 L106.6,298 L109,308.3 L103.2,309.2 Z" stroke="#999" stroke-width="0.9" fill="none" stroke-linejoin="round" stroke-linecap="round" />
<path d="M107.5,309 C112.5,309.5 116,314.5 116.6,320.5 C117.2,327 115.2,332.5 111.5,334.5" stroke="#999" stroke-width="1.0" fill="none" stroke-linejoin="round" stroke-linecap="round" />
<path d="M110.6,307.8 C116.5,308.8 120.2,314.5 120.6,321 C121,328 118.4,333.5 114.2,336" stroke="#999" stroke-width="1.0" fill="none" stroke-linejoin="round" stroke-linecap="round" />
<path d="M105.5,311 C109,312 111.8,316.5 111.8,322 C111.8,327.5 109.5,331.5 106.5,332.5" stroke="#999" stroke-width="0.9" fill="none" stroke-linejoin="round" stroke-linecap="round" />
<path d="M90.8,305.2 L95.6,303.6 M90.5,307.8 L95.9,306.2 M90.5,310.4 L95.8,308.8 M91,313 L96.2,311.4" stroke="#999" stroke-width="0.9" fill="none" stroke-linejoin="round" stroke-linecap="round" />
<path d="M95.8,303.6 L97.2,313 M96.4,313 L99,318.5 L96.6,325.8" stroke="#999" stroke-width="0.9" fill="none" stroke-linejoin="round" stroke-linecap="round" />
<path d="M95.8,325.9 L111.5,327 M98,334.5 L104,334.6 L106.3,346.5 M99.8,316.5 L104.5,316.2 L105.8,325" stroke="#999" stroke-width="0.9" fill="none" stroke-linejoin="round" stroke-linecap="round" />
<path d="M104,334.6 L112.2,335.6 L113,343.5" stroke="#999" stroke-width="0.9" fill="none" stroke-linejoin="round" stroke-linecap="round" />
<path d="M311.50,247.90 L339.60,260.10 L337.60,265.60 L310.50,255.60 Z" stroke="#999" stroke-width="1.25" fill="#fff" stroke-linejoin="round" stroke-linecap="round" />
<path d="M313.00,250.80 L338.60,261.60 M312.40,253.10 L337.90,263.80" stroke="#999" stroke-width="0.85" fill="none" stroke-linejoin="round" stroke-linecap="round" />
<ellipse cx="339.2" cy="262.8" rx="1.9" ry="2.9" transform="rotate(20 339.2 262.8)" stroke="#999" stroke-width="1.1" fill="#fff"/>
<path d="M295.40,246.70 L298.55,240.60 L305.20,240.60 L313.00,247.90 L312.00,251.80 L311.40,254.90 L303.50,255.00 L296.20,253.40 Z" stroke="#999" stroke-width="1.25" fill="#fff" stroke-linejoin="round" stroke-linecap="round" />
<path d="M296.00,248.00 L300.60,242.20 M296.00,248.00 L298.60,248.00" stroke="#999" stroke-width="1.0" fill="none" stroke-linejoin="round" stroke-linecap="round" />
<path d="M302.20,242.00 Q298.20,248.60 301.90,254.80" stroke="#999" stroke-width="1.05" fill="none" stroke-linejoin="round" stroke-linecap="round" />
<path d="M304.80,242.00 Q300.80,248.60 304.50,254.80" stroke="#999" stroke-width="1.05" fill="none" stroke-linejoin="round" stroke-linecap="round" />
<path d="M307.20,242.00 Q303.20,248.60 306.90,254.80" stroke="#999" stroke-width="1.05" fill="none" stroke-linejoin="round" stroke-linecap="round" />
<path d="M312.60,248.40 Q309.80,251.80 311.40,254.80" stroke="#999" stroke-width="1.0" fill="none" stroke-linejoin="round" stroke-linecap="round" />
<path d="M337.43,281.37 L337.43,280.56 L337.49,279.74 L337.59,278.93 L337.74,278.11 L337.93,277.31 L338.17,276.52 L338.45,275.75 L338.78,275.01 L339.14,274.31 L339.54,273.64 L339.96,273.01 L340.42,272.44 L340.91,271.92 L341.42,271.45 L341.94,271.05 L342.48,270.71 L343.03,270.43 L343.58,270.23 L344.14,270.09 L344.69,270.02 L345.24,270.03 L345.77,270.11 L354.77,272.11 L355.30,272.25 L355.80,272.47 L356.28,272.76 L356.73,273.11 L357.15,273.52 L357.54,274.00 L357.90,274.53 L358.21,275.11 L358.49,275.74 L358.71,276.41 L358.90,277.13 L359.04,277.87 L359.13,278.64 L359.17,279.43 L359.17,280.24 L359.12,281.06 L359.01,281.87 L358.87,282.69 L358.67,283.49 L358.43,284.28 L358.15,285.05 L357.82,285.79 L357.46,286.50 L357.06,287.16 L356.63,287.79 L356.18,288.36 L355.69,288.88 L355.19,289.35 L354.66,289.75 L354.12,290.09 L353.57,290.37 L353.02,290.57 L352.46,290.71 L351.91,290.77 L351.36,290.77 L350.82,290.69 L341.82,288.69 L341.30,288.55 L340.80,288.33 L340.32,288.04 L339.87,287.69 L339.45,287.28 L339.06,286.80 L338.70,286.27 L338.39,285.69 L338.12,285.06 L337.88,284.39 L337.70,283.67 L337.56,282.93 L337.47,282.16 Z" stroke="#999" stroke-width="1.25" fill="#fff" stroke-linejoin="round"/>
<path d="M344.01,289.18 L343.56,289.02 L343.12,288.82 L342.70,288.56 L342.30,288.25 L341.93,287.90 L341.58,287.49 L341.25,287.05 L340.96,286.56 L340.70,286.03 L340.47,285.46 L340.27,284.86 L340.11,284.24 L339.98,283.58 L339.89,282.91 L339.84,282.22 L339.82,281.51 L339.84,280.80 L339.90,280.08 L340.00,279.36 L340.14,278.64 L340.30,277.94 L340.51,277.24 L340.75,276.56 L341.02,275.89 L341.32,275.26 L341.65,274.65 L342.00,274.07 L342.38,273.52 L342.79,273.02 L343.21,272.55 L343.65,272.13 L344.11,271.75 L344.58,271.42 L345.05,271.15 L345.54,270.92 L346.03,270.75 L346.52,270.63 L347.00,270.56 L347.49,270.56 L347.96,270.60" stroke="#999" stroke-width="1.05" fill="none" stroke-linejoin="round" stroke-linecap="round" />
<path d="M347.01,289.84 L346.56,289.69 L346.12,289.49 L345.70,289.23 L345.30,288.92 L344.93,288.56 L344.58,288.16 L344.25,287.71 L343.96,287.22 L343.70,286.69 L343.47,286.13 L343.27,285.53 L343.11,284.90 L342.98,284.25 L342.89,283.58 L342.84,282.89 L342.82,282.18 L342.84,281.47 L342.90,280.75 L343.00,280.03 L343.14,279.31 L343.30,278.60 L343.51,277.90 L343.75,277.22 L344.02,276.56 L344.32,275.92 L344.65,275.31 L345.00,274.73 L345.38,274.19 L345.79,273.68 L346.21,273.22 L346.65,272.80 L347.11,272.42 L347.58,272.09 L348.05,271.81 L348.54,271.59 L349.03,271.41 L349.52,271.29 L350.00,271.23 L350.49,271.22 L350.96,271.27" stroke="#999" stroke-width="1.05" fill="none" stroke-linejoin="round" stroke-linecap="round" />
<path d="M349.81,290.46 L349.36,290.31 L348.92,290.11 L348.50,289.85 L348.10,289.54 L347.73,289.19 L347.38,288.78 L347.05,288.33 L346.76,287.84 L346.50,287.32 L346.27,286.75 L346.07,286.15 L345.91,285.53 L345.78,284.87 L345.69,284.20 L345.64,283.51 L345.62,282.80 L345.64,282.09 L345.70,281.37 L345.80,280.65 L345.94,279.93 L346.10,279.22 L346.31,278.53 L346.55,277.85 L346.82,277.18 L347.12,276.55 L347.45,275.94 L347.80,275.36 L348.18,274.81 L348.59,274.31 L349.01,273.84 L349.45,273.42 L349.91,273.04 L350.38,272.71 L350.85,272.44 L351.34,272.21 L351.83,272.04 L352.32,271.92 L352.80,271.85 L353.29,271.84 L353.76,271.89" stroke="#999" stroke-width="1.05" fill="none" stroke-linejoin="round" stroke-linecap="round" />
<path d="M352.51,291.06 L352.06,290.91 L351.62,290.71 L351.20,290.45 L350.80,290.14 L350.43,289.79 L350.08,289.38 L349.75,288.93 L349.46,288.44 L349.20,287.92 L348.97,287.35 L348.77,286.75 L348.61,286.13 L348.48,285.47 L348.39,284.80 L348.34,284.11 L348.32,283.40 L348.34,282.69 L348.40,281.97 L348.50,281.25 L348.64,280.53 L348.80,279.82 L349.01,279.13 L349.25,278.45 L349.52,277.78 L349.82,277.15 L350.15,276.54 L350.50,275.96 L350.88,275.41 L351.29,274.91 L351.71,274.44 L352.15,274.02 L352.61,273.64 L353.08,273.31 L353.55,273.04 L354.04,272.81 L354.53,272.64 L355.02,272.52 L355.50,272.45 L355.99,272.44 L356.46,272.49" stroke="#999" stroke-width="1.05" fill="none" stroke-linejoin="round" stroke-linecap="round" />
<path d="M349.52,282.71 L349.54,282.10 L349.61,281.49 L349.72,280.88 L349.87,280.28 L350.06,279.69 L350.28,279.12 L350.54,278.57 L350.84,278.05 L351.16,277.56 L351.52,277.10 L351.90,276.68 L352.31,276.30 L352.74,275.96 L353.18,275.67 L353.64,275.42 L354.11,275.23 L354.58,275.09 L355.06,275.00 L355.54,274.97 L356.01,274.98 L356.48,275.06 L358.88,275.56 L359.33,275.68 L359.77,275.86 L360.19,276.08 L360.59,276.36 L360.97,276.68 L361.32,277.05 L361.64,277.45 L361.93,277.90 L362.18,278.38 L362.39,278.90 L362.57,279.44 L362.71,280.00 L362.81,280.58 L362.87,281.18 L362.88,281.79 L362.86,282.40 L362.79,283.01 L362.68,283.62 L362.53,284.22 L362.35,284.81 L362.12,285.38 L361.86,285.93 L361.56,286.45 L361.24,286.94 L360.88,287.40 L360.50,287.82 L360.09,288.20 L359.66,288.54 L359.22,288.83 L358.76,289.08 L358.29,289.27 L357.82,289.41 L357.34,289.50 L356.86,289.53 L356.39,289.52 L355.92,289.44 L353.52,288.94 L353.07,288.82 L352.63,288.64 L352.21,288.42 L351.81,288.14 L351.43,287.82 L351.08,287.45 L350.76,287.05 L350.47,286.60 L350.22,286.12 L350.00,285.60 L349.83,285.06 L349.69,284.50 L349.59,283.92 L349.53,283.32 Z" stroke="#999" stroke-width="1.2" fill="#fff" stroke-linejoin="round"/>
<ellipse cx="357.4" cy="282.5" rx="5.4" ry="7.1" transform="rotate(12 357.4 282.5)" stroke="#999" stroke-width="1.2" fill="#fff"/>
<ellipse cx="356.4" cy="282.3" rx="3.6" ry="5.8" transform="rotate(12 356.4 282.3)" stroke="#999" stroke-width="1.0" fill="#fff"/>
<path d="M319.20,412.20 L347.30,424.40 L345.30,429.90 L318.20,419.90 Z" stroke="#999" stroke-width="1.25" fill="#fff" stroke-linejoin="round" stroke-linecap="round" />
<path d="M320.70,415.10 L346.30,425.90 M320.10,417.40 L345.60,428.10" stroke="#999" stroke-width="0.85" fill="none" stroke-linejoin="round" stroke-linecap="round" />
<ellipse cx="346.9" cy="427.1" rx="1.9" ry="2.9" transform="rotate(20 346.9 427.1)" stroke="#999" stroke-width="1.1" fill="#fff"/>
<path d="M303.10,411.00 L306.25,404.90 L312.90,404.90 L320.70,412.20 L319.70,416.10 L319.10,419.20 L311.20,419.30 L303.90,417.70 Z" stroke="#999" stroke-width="1.25" fill="#fff" stroke-linejoin="round" stroke-linecap="round" />
<path d="M303.70,412.30 L308.30,406.50 M303.70,412.30 L306.30,412.30" stroke="#999" stroke-width="1.0" fill="none" stroke-linejoin="round" stroke-linecap="round" />
<path d="M309.90,406.30 Q305.90,412.90 309.60,419.10" stroke="#999" stroke-width="1.05" fill="none" stroke-linejoin="round" stroke-linecap="round" />
<path d="M312.50,406.30 Q308.50,412.90 312.20,419.10" stroke="#999" stroke-width="1.05" fill="none" stroke-linejoin="round" stroke-linecap="round" />
<path d="M314.90,406.30 Q310.90,412.90 314.60,419.10" stroke="#999" stroke-width="1.05" fill="none" stroke-linejoin="round" stroke-linecap="round" />
<path d="M320.30,412.70 Q317.50,416.10 319.10,419.10" stroke="#999" stroke-width="1.0" fill="none" stroke-linejoin="round" stroke-linecap="round" />
<path d="M355.43,438.67 L355.43,437.86 L355.49,437.04 L355.59,436.23 L355.74,435.41 L355.93,434.61 L356.17,433.82 L356.45,433.05 L356.78,432.31 L357.14,431.61 L357.54,430.94 L357.96,430.31 L358.42,429.74 L358.91,429.22 L359.42,428.75 L359.94,428.35 L360.48,428.01 L361.03,427.73 L361.58,427.53 L362.14,427.39 L362.69,427.32 L363.24,427.33 L363.77,427.41 L372.77,429.41 L373.30,429.56 L373.80,429.77 L374.28,430.06 L374.73,430.41 L375.15,430.82 L375.54,431.30 L375.90,431.83 L376.21,432.41 L376.49,433.04 L376.71,433.71 L376.90,434.43 L377.04,435.17 L377.13,435.94 L377.17,436.73 L377.17,437.54 L377.12,438.36 L377.01,439.17 L376.87,439.99 L376.67,440.79 L376.43,441.58 L376.15,442.35 L375.82,443.09 L375.46,443.80 L375.06,444.46 L374.63,445.09 L374.18,445.66 L373.69,446.18 L373.19,446.65 L372.66,447.05 L372.12,447.39 L371.57,447.67 L371.02,447.87 L370.46,448.01 L369.91,448.07 L369.36,448.07 L368.82,447.99 L359.82,445.99 L359.30,445.85 L358.80,445.63 L358.32,445.34 L357.87,444.99 L357.45,444.58 L357.06,444.10 L356.70,443.57 L356.39,442.99 L356.12,442.36 L355.88,441.69 L355.70,440.97 L355.56,440.23 L355.47,439.46 Z" stroke="#999" stroke-width="1.25" fill="#fff" stroke-linejoin="round"/>
<path d="M362.01,446.48 L361.56,446.32 L361.12,446.12 L360.70,445.86 L360.30,445.55 L359.93,445.20 L359.58,444.79 L359.25,444.35 L358.96,443.86 L358.70,443.33 L358.47,442.76 L358.27,442.16 L358.11,441.54 L357.98,440.88 L357.89,440.21 L357.84,439.52 L357.82,438.81 L357.84,438.10 L357.90,437.38 L358.00,436.66 L358.14,435.94 L358.30,435.24 L358.51,434.54 L358.75,433.86 L359.02,433.19 L359.32,432.56 L359.65,431.95 L360.00,431.37 L360.38,430.82 L360.79,430.32 L361.21,429.85 L361.65,429.43 L362.11,429.05 L362.58,428.72 L363.05,428.45 L363.54,428.22 L364.03,428.05 L364.52,427.93 L365.00,427.86 L365.49,427.86 L365.96,427.90" stroke="#999" stroke-width="1.05" fill="none" stroke-linejoin="round" stroke-linecap="round" />
<path d="M365.01,447.14 L364.56,446.99 L364.12,446.79 L363.70,446.53 L363.30,446.22 L362.93,445.86 L362.58,445.46 L362.25,445.01 L361.96,444.52 L361.70,443.99 L361.47,443.43 L361.27,442.83 L361.11,442.20 L360.98,441.55 L360.89,440.88 L360.84,440.19 L360.82,439.48 L360.84,438.77 L360.90,438.05 L361.00,437.33 L361.14,436.61 L361.30,435.90 L361.51,435.20 L361.75,434.52 L362.02,433.86 L362.32,433.22 L362.65,432.61 L363.00,432.03 L363.38,431.49 L363.79,430.98 L364.21,430.52 L364.65,430.10 L365.11,429.72 L365.58,429.39 L366.05,429.11 L366.54,428.89 L367.03,428.71 L367.52,428.59 L368.00,428.53 L368.49,428.52 L368.96,428.57" stroke="#999" stroke-width="1.05" fill="none" stroke-linejoin="round" stroke-linecap="round" />
<path d="M367.81,447.76 L367.36,447.61 L366.92,447.41 L366.50,447.15 L366.10,446.84 L365.73,446.49 L365.38,446.08 L365.05,445.63 L364.76,445.14 L364.50,444.62 L364.27,444.05 L364.07,443.45 L363.91,442.83 L363.78,442.17 L363.69,441.50 L363.64,440.81 L363.62,440.10 L363.64,439.39 L363.70,438.67 L363.80,437.95 L363.94,437.23 L364.10,436.52 L364.31,435.83 L364.55,435.15 L364.82,434.48 L365.12,433.85 L365.45,433.24 L365.80,432.66 L366.18,432.11 L366.59,431.61 L367.01,431.14 L367.45,430.72 L367.91,430.34 L368.38,430.01 L368.85,429.74 L369.34,429.51 L369.83,429.34 L370.32,429.22 L370.80,429.15 L371.29,429.14 L371.76,429.19" stroke="#999" stroke-width="1.05" fill="none" stroke-linejoin="round" stroke-linecap="round" />
<path d="M370.51,448.36 L370.06,448.21 L369.62,448.01 L369.20,447.75 L368.80,447.44 L368.43,447.09 L368.08,446.68 L367.75,446.23 L367.46,445.74 L367.20,445.22 L366.97,444.65 L366.77,444.05 L366.61,443.43 L366.48,442.77 L366.39,442.10 L366.34,441.41 L366.32,440.70 L366.34,439.99 L366.40,439.27 L366.50,438.55 L366.64,437.83 L366.80,437.12 L367.01,436.43 L367.25,435.75 L367.52,435.08 L367.82,434.45 L368.15,433.84 L368.50,433.26 L368.88,432.71 L369.29,432.21 L369.71,431.74 L370.15,431.32 L370.61,430.94 L371.08,430.61 L371.55,430.34 L372.04,430.11 L372.53,429.94 L373.02,429.82 L373.50,429.75 L373.99,429.74 L374.46,429.79" stroke="#999" stroke-width="1.05" fill="none" stroke-linejoin="round" stroke-linecap="round" />
<path d="M367.52,440.01 L367.54,439.40 L367.61,438.79 L367.72,438.18 L367.87,437.58 L368.06,436.99 L368.28,436.42 L368.54,435.87 L368.84,435.35 L369.16,434.86 L369.52,434.40 L369.90,433.98 L370.31,433.60 L370.74,433.26 L371.18,432.97 L371.64,432.72 L372.11,432.53 L372.58,432.39 L373.06,432.30 L373.54,432.27 L374.01,432.28 L374.48,432.36 L376.88,432.86 L377.33,432.98 L377.77,433.16 L378.19,433.38 L378.59,433.66 L378.97,433.98 L379.32,434.35 L379.64,434.75 L379.93,435.20 L380.18,435.68 L380.39,436.20 L380.57,436.74 L380.71,437.30 L380.81,437.88 L380.87,438.48 L380.88,439.09 L380.86,439.70 L380.79,440.31 L380.68,440.92 L380.53,441.52 L380.35,442.11 L380.12,442.68 L379.86,443.23 L379.56,443.75 L379.24,444.25 L378.88,444.70 L378.50,445.12 L378.09,445.50 L377.66,445.84 L377.22,446.13 L376.76,446.38 L376.29,446.57 L375.82,446.71 L375.34,446.80 L374.86,446.83 L374.39,446.82 L373.92,446.75 L371.52,446.25 L371.07,446.12 L370.63,445.94 L370.21,445.72 L369.81,445.44 L369.43,445.12 L369.08,444.75 L368.76,444.35 L368.47,443.90 L368.22,443.42 L368.00,442.90 L367.83,442.36 L367.69,441.80 L367.59,441.22 L367.53,440.62 Z" stroke="#999" stroke-width="1.2" fill="#fff" stroke-linejoin="round"/>
<ellipse cx="375.4" cy="439.8" rx="5.4" ry="7.1" transform="rotate(12 375.4 439.8)" stroke="#999" stroke-width="1.2" fill="#fff"/>
<ellipse cx="374.4" cy="439.6" rx="3.6" ry="5.8" transform="rotate(12 374.4 439.6)" stroke="#999" stroke-width="1.0" fill="#fff"/>
<clipPath id="hc2"><path d="M258.20,307.00 L265.00,306.60 L271.60,307.60 L287.20,314.00 L286.50,318.60 L259.20,310.80 Z"/></clipPath>
<path d="M258.20,307.00 L265.00,306.60 L271.60,307.60 L287.20,314.00 L286.50,318.60 L259.20,310.80 Z" fill="#fff" stroke="none"/>
<path d="M254.20,275.68 L309.37,293.60 M253.56,277.67 L308.72,295.60 M252.91,279.67 L308.07,297.59 M252.26,281.67 L307.42,299.59 M251.61,283.67 L306.77,301.59 M250.96,285.66 L306.12,303.59 M250.31,287.66 L305.47,305.58 M249.66,289.66 L304.82,307.58 M249.01,291.66 L304.17,309.58 M248.36,293.65 L303.53,311.58 M247.72,295.65 L302.88,313.57 M247.07,297.65 L302.23,315.57 M246.42,299.64 L301.58,317.57 M245.77,301.64 L300.93,319.56 M245.12,303.64 L300.28,321.56 M244.47,305.64 L299.63,323.56 M243.82,307.63 L298.98,325.56 M243.17,309.63 L298.33,327.55 M242.52,311.63 L297.68,329.55 M241.87,313.62 L297.04,331.55 M241.23,315.62 L296.39,333.54 M240.58,317.62 L295.74,335.54 M239.93,319.62 L295.09,337.54 M239.28,321.61 L294.44,339.54 M238.63,323.61 L293.79,341.53 M237.98,325.61 L293.14,343.53 M237.33,327.61 L292.49,345.53 M236.68,329.60 L291.84,347.53 M236.03,331.60 L291.20,349.52" stroke="#999" stroke-width="1.0" clip-path="url(#hc2)"/>
<path d="M258.20,307.00 L265.00,306.60 L271.60,307.60 L287.20,314.00 L286.50,318.60 L259.20,310.80 Z" fill="none" stroke="#999" stroke-width="1.1" stroke-linejoin="round"/>
<path d="M259.2,310.8 L286.5,318.6 L285.9,323.2 L259.0,314.0 Z" stroke="#999" stroke-width="1.1" fill="#fff" stroke-linejoin="round" stroke-linecap="round" />
<path d="M272,315 L273.2,319.3" stroke="#999" stroke-width="0.9" fill="none" stroke-linejoin="round" stroke-linecap="round" />
<path d="M257.8,307.2 L258.2,310.8" stroke="#999" stroke-width="1.1" fill="none" stroke-linejoin="round" stroke-linecap="round" />
<path d="M287.2,315.8 L292.4,319.8 M286.4,320.2 L291.2,323.8" stroke="#999" stroke-width="1.0" fill="none" stroke-linejoin="round" stroke-linecap="round" />
<clipPath id="hc3"><path d="M287.50,316.50 L292.20,320.00 L291.40,323.40 L286.60,319.80 Z"/></clipPath>
<path d="M287.50,316.50 L292.20,320.00 L291.40,323.40 L286.60,319.80 Z" fill="#fff" stroke="none"/>
<path d="M285.58,310.26 L298.55,314.98 M285.14,311.48 L298.11,316.20 M284.69,312.70 L297.66,317.42 M284.25,313.93 L297.22,318.65 M283.81,315.15 L296.77,319.87 M283.36,316.37 L296.33,321.09 M282.92,317.59 L295.88,322.31 M282.47,318.81 L295.44,323.53 M282.03,320.03 L294.99,324.75 M281.58,321.25 L294.55,325.97 M281.14,322.48 L294.11,327.20 M280.69,323.70 L293.66,328.42 M280.25,324.92 L293.22,329.64" stroke="#999" stroke-width="0.7" clip-path="url(#hc3)"/>
<clipPath id="hc4"><path d="M291.60,320.40 L296.50,319.80 L301.50,320.60 L317.60,326.60 L316.20,332.80 L291.00,323.60 Z"/></clipPath>
<path d="M291.60,320.40 L296.50,319.80 L301.50,320.60 L317.60,326.60 L316.20,332.80 L291.00,323.60 Z" fill="#fff" stroke="none"/>
<path d="M287.44,292.12 L338.03,308.56 M286.79,294.11 L337.39,310.55 M286.14,296.11 L336.74,312.55 M285.49,298.11 L336.09,314.55 M284.84,300.11 L335.44,316.54 M284.19,302.10 L334.79,318.54 M283.54,304.10 L334.14,320.54 M282.90,306.10 L333.49,322.54 M282.25,308.09 L332.84,324.53 M281.60,310.09 L332.19,326.53 M280.95,312.09 L331.54,328.53 M280.30,314.09 L330.90,330.53 M279.65,316.08 L330.25,332.52 M279.00,318.08 L329.60,334.52 M278.35,320.08 L328.95,336.52 M277.70,322.07 L328.30,338.51 M277.06,324.07 L327.65,340.51 M276.41,326.07 L327.00,342.51 M275.76,328.07 L326.35,344.51 M275.11,330.06 L325.70,346.50 M274.46,332.06 L325.06,348.50 M273.81,334.06 L324.41,350.50 M273.16,336.06 L323.76,352.49 M272.51,338.05 L323.11,354.49 M271.86,340.05 L322.46,356.49 M271.21,342.05 L321.81,358.49 M270.57,344.04 L321.16,360.48" stroke="#999" stroke-width="1.0" clip-path="url(#hc4)"/>
<path d="M291.60,320.40 L296.50,319.80 L301.50,320.60 L317.60,326.60 L316.20,332.80 L291.00,323.60 Z" fill="none" stroke="#999" stroke-width="1.1" stroke-linejoin="round"/>
<path d="M291.0,323.6 L316.2,332.8 L317.5,335.2 L315.8,337.4 L290.6,327.4 Z" stroke="#999" stroke-width="1.1" fill="#fff" stroke-linejoin="round" stroke-linecap="round" />
<path d="M317.6,326.6 L317.5,335.2" stroke="#999" stroke-width="1.1" fill="none" stroke-linejoin="round" stroke-linecap="round" />
<ellipse cx="302.5" cy="329.2" rx="1.2" ry="1.4" transform="rotate(0 302.5 329.2)" stroke="#999" stroke-width="0.8" fill="#fff"/>
<path d="M251.3,363.6 L256,361.8 L310.6,377.4 L309.6,380.8 L306,381.6 L251.8,366.6 Z" stroke="#999" stroke-width="1.1" fill="#fff" stroke-linejoin="round" stroke-linecap="round" />
<path d="M252.5,365 L309.5,380" stroke="#999" stroke-width="0.8" fill="none" stroke-linejoin="round" stroke-linecap="round" />
<clipPath id="hc5"><path d="M255.30,358.60 L262.50,358.80 L269.00,361.20 L269.20,366.60 L256.00,362.60 Z"/></clipPath>
<path d="M255.30,358.60 L262.50,358.80 L269.00,361.20 L269.20,366.60 L256.00,362.60 Z" fill="#fff" stroke="none"/>
<path d="M253.26,344.48 L279.84,352.61 M252.64,346.49 L279.23,354.61 M252.03,348.49 L278.61,356.62 M251.41,350.50 L278.00,358.63 M250.80,352.51 L277.38,360.64 M250.19,354.52 L276.77,362.65 M249.57,356.53 L276.16,364.66 M248.96,358.54 L275.54,366.66 M248.34,360.54 L274.93,368.67 M247.73,362.55 L274.31,370.68 M247.12,364.56 L273.70,372.69 M246.50,366.57 L273.09,374.70 M245.89,368.58 L272.47,376.71 M245.27,370.59 L271.86,378.71 M244.66,372.59 L271.24,380.72" stroke="#999" stroke-width="1.0" clip-path="url(#hc5)"/>
<path d="M255.30,358.60 L262.50,358.80 L269.00,361.20 L269.20,366.60 L256.00,362.60 Z" fill="none" stroke="#999" stroke-width="1.1" stroke-linejoin="round"/>
<clipPath id="hc6"><path d="M268.30,353.60 L272.60,353.20 L283.20,357.40 L282.40,367.60 L270.40,365.20 L269.40,358.50 Z"/></clipPath>
<path d="M268.30,353.60 L272.60,353.20 L283.20,357.40 L282.40,367.60 L270.40,365.20 L269.40,358.50 Z" fill="#fff" stroke="none"/>
<path d="M266.06,340.14 L294.70,348.36 M265.48,342.16 L294.12,350.38 M264.90,344.18 L293.55,352.40 M264.32,346.20 L292.97,354.41 M263.74,348.22 L292.39,356.43 M263.16,350.24 L291.81,358.45 M262.58,352.26 L291.23,360.47 M262.01,354.27 L290.65,362.49 M261.43,356.29 L290.07,364.51 M260.85,358.31 L289.49,366.53 M260.27,360.33 L288.92,368.54 M259.69,362.35 L288.34,370.56 M259.11,364.37 L287.76,372.58 M258.53,366.39 L287.18,374.60 M257.95,368.40 L286.60,376.62 M257.38,370.42 L286.02,378.64 M256.80,372.44 L285.44,380.66" stroke="#999" stroke-width="1.0" clip-path="url(#hc6)"/>
<path d="M268.30,353.60 L272.60,353.20 L283.20,357.40 L282.40,367.60 L270.40,365.20 L269.40,358.50 Z" fill="none" stroke="#999" stroke-width="1.1" stroke-linejoin="round"/>
<path d="M265,363 L269.3,363.5 L269.3,367.2 L265.5,366.2 Z" stroke="#999" stroke-width="0.8" fill="#fff" stroke-linejoin="round" stroke-linecap="round" />
<clipPath id="hc7"><path d="M284.30,370.20 L288.80,369.60 L296.40,372.40 L296.20,378.60 L284.60,375.40 Z"/></clipPath>
<path d="M284.30,370.20 L288.80,369.60 L296.40,372.40 L296.20,378.60 L284.60,375.40 Z" fill="#fff" stroke="none"/>
<path d="M282.46,358.51 L305.61,365.59 M281.85,360.52 L304.99,367.60 M281.23,362.53 L304.38,369.60 M280.62,364.54 L303.76,371.61 M280.01,366.55 L303.15,373.62 M279.39,368.55 L302.54,375.63 M278.78,370.56 L301.92,377.64 M278.16,372.57 L301.31,379.65 M277.55,374.58 L300.69,381.65 M276.94,376.59 L300.08,383.66 M276.32,378.60 L299.47,385.67 M275.71,380.60 L298.85,387.68 M275.09,382.61 L298.24,389.69" stroke="#999" stroke-width="1.0" clip-path="url(#hc7)"/>
<path d="M284.30,370.20 L288.80,369.60 L296.40,372.40 L296.20,378.60 L284.60,375.40 Z" fill="none" stroke="#999" stroke-width="1.1" stroke-linejoin="round"/>
<clipPath id="hc8"><path d="M296.60,366.40 L300.30,365.60 L312.20,370.20 L310.60,380.40 L297.60,377.20 Z"/></clipPath>
<path d="M296.60,366.40 L300.30,365.60 L312.20,370.20 L310.60,380.40 L297.60,377.20 Z" fill="#fff" stroke="none"/>
<path d="M294.39,352.37 L324.23,361.50 M293.78,354.38 L323.62,363.50 M293.17,356.39 L323.00,365.51 M292.55,358.40 L322.39,367.52 M291.94,360.41 L321.77,369.53 M291.32,362.41 L321.16,371.54 M290.71,364.42 L320.55,373.54 M290.10,366.43 L319.93,375.55 M289.48,368.44 L319.32,377.56 M288.87,370.45 L318.70,379.57 M288.25,372.46 L318.09,381.58 M287.64,374.46 L317.48,383.59 M287.03,376.47 L316.86,385.59 M286.41,378.48 L316.25,387.60 M285.80,380.49 L315.63,389.61 M285.18,382.50 L315.02,391.62 M284.57,384.50 L314.41,393.63" stroke="#999" stroke-width="1.0" clip-path="url(#hc8)"/>
<path d="M296.60,366.40 L300.30,365.60 L312.20,370.20 L310.60,380.40 L297.60,377.20 Z" fill="none" stroke="#999" stroke-width="1.1" stroke-linejoin="round"/>
<ellipse cx="296.4" cy="375.6" rx="1.3" ry="1.3" transform="rotate(0 296.4 375.6)" stroke="#999" stroke-width="0.8" fill="#fff"/>
<path d="M338.8,313.3 L346.4,314.1 L347.2,317.1 L347.2,319.4 L354,327.8 C351.5,335 347,345 344.2,353.7 C342,360 340.5,366 340.3,370.4 L328.2,378.8 L328.2,382.6 L320.6,382.2 L320.6,378 C320.5,368 321,360 322.1,353.7 C324,345 326,340 328.2,335.4 C330.5,330 333,325 335.8,320.2 L338.8,317.1 Z" stroke="#999" stroke-width="1.25" fill="#fff" stroke-linejoin="round" stroke-linecap="round" />
<path d="M338.8,317.1 L347.2,317.1 M320.6,378 L328.2,378.8" stroke="#999" stroke-width="1.0" fill="none" stroke-linejoin="round" stroke-linecap="round" />
<path d="M341.1,318.7 C337,324 334.5,329 332.7,333.9 C329.5,341 327.6,348 327.4,353.7 C326.8,362 326.6,370 326.7,377" stroke="#999" stroke-width="1.0" fill="none" stroke-linejoin="round" stroke-linecap="round" />
<path d="M347.2,319.4 C341,327 337.5,332 335.8,338.4 C332.5,346 330.5,352 329.7,358.2 C328.8,366 328.4,372 328.2,378.8" stroke="#999" stroke-width="1.0" fill="none" stroke-linejoin="round" stroke-linecap="round" />
<path d="M367.8,324.4 L373.9,321.3 L380.7,322.1 L381.5,326.7 L383.8,328.9 L387.6,329.7 L388.3,333.5 L385.3,335.8 C385.2,340 385,343 384.5,346.5 C383.5,350 382,353 380.7,355.6 C379.5,359 378.9,362 378.5,364.7 L376.9,374.6 L376.2,377.7 L374.2,383 L369.3,383 L363.2,386.8 L363.2,390.6 L354.9,390.6 L354.1,386 C353,382 352.5,378 352.6,373.9 C352.8,368 353.2,362 354.1,357.1 C355.2,351 356.8,346 358.7,341.9 C360.5,337 362.5,333 364.7,329.7 Z" stroke="#999" stroke-width="1.25" fill="#fff" stroke-linejoin="round" stroke-linecap="round" />
<path d="M370.8,324.4 C365.5,332 361.5,340 359.5,347 C357.8,352 357.3,357 357.1,361.7 C356.7,370 356.4,378 356.4,386" stroke="#999" stroke-width="1.0" fill="none" stroke-linejoin="round" stroke-linecap="round" />
<path d="M374.6,325.1 C369,333 365,341 363,348 C361.2,353 360.5,357 360.2,361.7 C359.8,370 359.5,378 359.4,385.3" stroke="#999" stroke-width="1.0" fill="none" stroke-linejoin="round" stroke-linecap="round" />
<path d="M372.7,324.8 C367.2,332.5 363.2,340.5 361.2,347.5 C359.5,352.5 358.9,357 358.6,361.7 C358.2,370 358,378 357.9,385.5" stroke="#999" stroke-width="1.6" fill="none" stroke-linejoin="round" stroke-linecap="round" stroke-dasharray="0.9 1.3"/>
<path d="M376.9,374.6 C374.5,376.5 373,378 372.5,380 M363.2,386.8 L354.1,386" stroke="#999" stroke-width="0.9" fill="none" stroke-linejoin="round" stroke-linecap="round" />
<ellipse cx="367.0" cy="356.3" rx="1.2" ry="1.3" transform="rotate(0 367.0 356.3)" stroke="#999" stroke-width="1.0" fill="none"/>
<ellipse cx="376.2" cy="356.3" rx="1.2" ry="1.3" transform="rotate(0 376.2 356.3)" stroke="#999" stroke-width="1.0" fill="none"/>
<path d="M381.5,326.7 L381.8,330 M373.9,321.3 L373.2,323.5" stroke="#999" stroke-width="0.9" fill="none" stroke-linejoin="round" stroke-linecap="round" />
<path d="M441.6,319.2 C446,317 451,316.8 456,317.2 C461,318.5 465,320 468.3,322.3 L472.6,323.5 L479.6,330.6 C481.2,332.5 482,335 482.3,337.6 L481.4,342.9 C480.3,346.5 479.2,349 477.9,351.7 L473.5,360.5 C472.2,363.5 471.4,365.5 470.8,367.5 C469.8,371 469.3,373.5 469.1,376.3 C468.5,380 468.2,383 468.2,386.8 L468.2,397.4 C467.6,400 466.8,402.5 465.6,404.4 L460.3,408 L451.9,410.4 L437.5,408.4 L425.2,406.3 C422,404 419.8,401 419.1,398.1 L421.1,388.9 L431.4,387.9 C436,386 439.5,383 441.6,379.7 C444.5,375 446.5,371 447.8,367.4 C450,360 451.5,353 451.9,346.9 L452.9,336.6 L441.6,332.5 L439.6,326.4 Z" stroke="#999" stroke-width="1.25" fill="#fff" stroke-linejoin="round" stroke-linecap="round" />
<clipPath id="hc9"><path d="M479.60,332.50 L481.40,342.90 L477.90,351.70 L473.50,360.50 L470.80,367.50 L469.10,376.30 L468.20,386.80 L468.20,397.40 L465.60,404.40 L462.00,402.70 L462.90,393.90 L463.80,379.80 L465.60,369.20 L469.10,358.70 L474.30,346.40 L476.10,335.80 Z"/></clipPath>
<path d="M479.60,332.50 L481.40,342.90 L477.90,351.70 L473.50,360.50 L470.80,367.50 L469.10,376.30 L468.20,386.80 L468.20,397.40 L465.60,404.40 L462.00,402.70 L462.90,393.90 L463.80,379.80 L465.60,369.20 L469.10,358.70 L474.30,346.40 L476.10,335.80 Z" fill="#fff" stroke="none"/>
<path d="M380.73,321.15 L517.49,276.71 M381.26,322.76 L518.02,278.33 M381.78,324.38 L518.54,279.94 M382.31,326.00 L519.07,281.56 M382.83,327.61 L519.59,283.18 M383.36,329.23 L520.12,284.79 M383.88,330.85 L520.64,286.41 M384.41,332.46 L521.17,288.03 M384.93,334.08 L521.69,289.64 M385.46,335.70 L522.22,291.26 M385.98,337.31 L522.75,292.88 M386.51,338.93 L523.27,294.49 M387.03,340.55 L523.80,296.11 M387.56,342.16 L524.32,297.73 M388.08,343.78 L524.85,299.34 M388.61,345.40 L525.37,300.96 M389.14,347.01 L525.90,302.58 M389.66,348.63 L526.42,304.19 M390.19,350.25 L526.95,305.81 M390.71,351.87 L527.47,307.43 M391.24,353.48 L528.00,309.05 M391.76,355.10 L528.52,310.66 M392.29,356.72 L529.05,312.28 M392.81,358.33 L529.57,313.90 M393.34,359.95 L530.10,315.51 M393.86,361.57 L530.63,317.13 M394.39,363.18 L531.15,318.75 M394.91,364.80 L531.68,320.36 M395.44,366.42 L532.20,321.98 M395.96,368.03 L532.73,323.60 M396.49,369.65 L533.25,325.21 M397.02,371.27 L533.78,326.83 M397.54,372.88 L534.30,328.45 M398.07,374.50 L534.83,330.06 M398.59,376.12 L535.35,331.68 M399.12,377.73 L535.88,333.30 M399.64,379.35 L536.40,334.91 M400.17,380.97 L536.93,336.53 M400.69,382.58 L537.45,338.15 M401.22,384.20 L537.98,339.76 M401.74,385.82 L538.50,341.38 M402.27,387.43 L539.03,343.00 M402.79,389.05 L539.56,344.61 M403.32,390.67 L540.08,346.23 M403.84,392.29 L540.61,347.85 M404.37,393.90 L541.13,349.47 M404.90,395.52 L541.66,351.08 M405.42,397.14 L542.18,352.70 M405.95,398.75 L542.71,354.32 M406.47,400.37 L543.23,355.93 M407.00,401.99 L543.76,357.55 M407.52,403.60 L544.28,359.17 M408.05,405.22 L544.81,360.78 M408.57,406.84 L545.33,362.40 M409.10,408.45 L545.86,364.02 M409.62,410.07 L546.38,365.63 M410.15,411.69 L546.91,367.25 M410.67,413.30 L547.44,368.87 M411.20,414.92 L547.96,370.48 M411.72,416.54 L548.49,372.10 M412.25,418.15 L549.01,373.72 M412.77,419.77 L549.54,375.33 M413.30,421.39 L550.06,376.95 M413.83,423.00 L550.59,378.57 M414.35,424.62 L551.11,380.18 M414.88,426.24 L551.64,381.80 M415.40,427.85 L552.16,383.42 M415.93,429.47 L552.69,385.03 M416.45,431.09 L553.21,386.65 M416.98,432.71 L553.74,388.27 M417.50,434.32 L554.26,389.89 M418.03,435.94 L554.79,391.50 M418.55,437.56 L555.32,393.12 M419.08,439.17 L555.84,394.74 M419.60,440.79 L556.37,396.35 M420.13,442.41 L556.89,397.97 M420.65,444.02 L557.42,399.59 M421.18,445.64 L557.94,401.20 M421.71,447.26 L558.47,402.82 M422.23,448.87 L558.99,404.44 M422.76,450.49 L559.52,406.05 M423.28,452.11 L560.04,407.67 M423.81,453.72 L560.57,409.29 M424.33,455.34 L561.09,410.90 M424.86,456.96 L561.62,412.52 M425.38,458.57 L562.14,414.14 M425.91,460.19 L562.67,415.75" stroke="#999" stroke-width="0.65" clip-path="url(#hc9)"/>
<path d="M476.1,335.8 L474.3,346.4 C472.5,351 471,355 469.1,358.7 C467.5,362 466.3,365.5 465.6,369.2 C464.6,373 464,376.5 463.8,379.8 L462.9,393.9 L462,402.7" stroke="#999" stroke-width="1.0" fill="none" stroke-linejoin="round" stroke-linecap="round" />
<path d="M472.6,323.5 L476.1,335.8 M468.3,322.3 L470.3,330.5" stroke="#999" stroke-width="0.9" fill="none" stroke-linejoin="round" stroke-linecap="round" />
<path d="M466.2,338.7 C467,342 466,347 463.5,352 C460.5,357 459,360 458,363.3 C456.8,368 456.2,373 456,377.6 L455.5,395" stroke="#999" stroke-width="0.9" fill="none" stroke-linejoin="round" stroke-linecap="round" />
<path d="M458,336.6 C456.5,348 455,360 451.9,375.6 L445.7,387.9" stroke="#999" stroke-width="0.9" fill="none" stroke-linejoin="round" stroke-linecap="round" />
<path d="M452.9,336.6 L458,336.6 L466.2,338.7 L470.3,330.5" stroke="#999" stroke-width="0.9" fill="none" stroke-linejoin="round" stroke-linecap="round" />
<path d="M441.6,322.2 L447,320.5 L452,321.8 L455.5,325.5 L454.5,331 L452.9,336.6 M447,320.5 L446,326.5 L441.6,326.8" stroke="#999" stroke-width="0.9" fill="none" stroke-linejoin="round" stroke-linecap="round" />
<path d="M455.5,325.5 L461.5,324.2 L466,326.5 L470.3,330.5 M461.5,324.2 L462,330 L466.2,331.5" stroke="#999" stroke-width="0.9" fill="none" stroke-linejoin="round" stroke-linecap="round" />
<path d="M452,318 C456,320 458,322.5 458.5,325" stroke="#999" stroke-width="0.8" fill="none" stroke-linejoin="round" stroke-linecap="round" />
<path d="M421.1,393 L431,393.5 L437.5,396 L450,397.2 L458,395.5 L462.5,394 M425.2,406.3 L426.5,399 L437.5,400.5 L437.5,408.4" stroke="#999" stroke-width="0.9" fill="none" stroke-linejoin="round" stroke-linecap="round" />
<path d="M431.4,387.9 L433,393.6 M444,390 L443.5,397 M450,397.2 L451.9,410.4 M437.5,400.5 L450,401.5 L462,400" stroke="#999" stroke-width="0.9" fill="none" stroke-linejoin="round" stroke-linecap="round" />
<path d="M424,402 L430,403 M441,404.5 L448,405" stroke="#999" stroke-width="0.8" fill="none" stroke-linejoin="round" stroke-linecap="round" />
<ellipse cx="448.8" cy="384.0" rx="1.4" ry="2.0" transform="rotate(15 448.8 384.0)" stroke="#999" stroke-width="0.9" fill="none"/>
<path d="M453.5,363 L456,363.5" stroke="#999" stroke-width="0.8" fill="none" stroke-linejoin="round" stroke-linecap="round" />
</svg>
<div class="ban"></div>
<div class="l" style="left:141px;top:461px">Part or sub-assembly is #5 in diagram</div>
<div class="l" style="left:111px;top:481px">Diagram may not be specific to your vehicle</div>
</body></html>
